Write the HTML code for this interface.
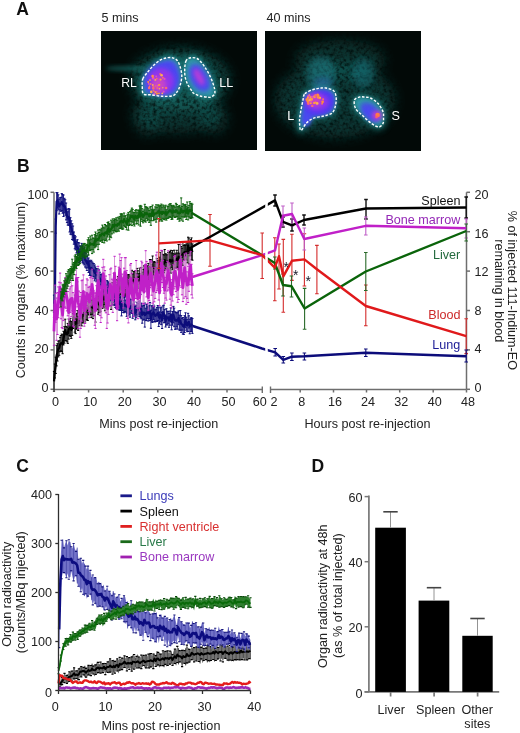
<!DOCTYPE html>
<html><head><meta charset="utf-8"><style>
html,body{margin:0;padding:0;background:#fff;}
svg{display:block;font-family:"Liberation Sans",sans-serif;filter:blur(0.3px);}
</style></head><body>
<svg width="520" height="733" viewBox="0 0 520 733" font-family="Liberation Sans, sans-serif"><defs>
<filter id="blur6" x="-50%" y="-50%" width="200%" height="200%"><feGaussianBlur stdDeviation="6"/></filter>
<filter id="blur3" x="-50%" y="-50%" width="200%" height="200%"><feGaussianBlur stdDeviation="3"/></filter>
<filter id="blur2" x="-50%" y="-50%" width="200%" height="200%"><feGaussianBlur stdDeviation="2"/></filter>
<filter id="blur1" x="-50%" y="-50%" width="200%" height="200%"><feGaussianBlur stdDeviation="0.6"/></filter>
<filter id="haze1" filterUnits="userSpaceOnUse" x="101" y="31" width="156" height="119"><feGaussianBlur in="SourceGraphic" stdDeviation="6" result="b"/><feTurbulence type="fractalNoise" baseFrequency="0.3" numOctaves="2" seed="2" result="n"/><feColorMatrix in="n" type="matrix" values="0 0 0 0 0  0 0 0 0 0  0 0 0 0 0  1.8 0 0 0 -0.1" result="na"/><feComposite in="b" in2="na" operator="in"/></filter>
<filter id="haze2" filterUnits="userSpaceOnUse" x="265" y="31" width="156" height="120"><feGaussianBlur in="SourceGraphic" stdDeviation="6" result="b"/><feTurbulence type="fractalNoise" baseFrequency="0.3" numOctaves="2" seed="7" result="n"/><feColorMatrix in="n" type="matrix" values="0 0 0 0 0  0 0 0 0 0  0 0 0 0 0  1.8 0 0 0 -0.1" result="na"/><feComposite in="b" in2="na" operator="in"/></filter>
<clipPath id="clipA1"><rect x="101" y="31" width="156" height="119"/></clipPath>
<clipPath id="clipA2"><rect x="265" y="31" width="156" height="120"/></clipPath>
</defs><text x="16.3" y="14.6" font-size="17.5" text-anchor="start" fill="#111" font-weight="bold" >A</text>
<text x="101.5" y="21.5" font-size="12.6" text-anchor="start" fill="#222" font-weight="normal" >5 mins</text>
<text x="266.5" y="21.5" font-size="12.6" text-anchor="start" fill="#222" font-weight="normal" >40 mins</text>
<g clip-path="url(#clipA1)">
<rect x="101" y="31" width="156" height="119" fill="#020907"/>
<g filter="url(#haze1)" fill="#1c8a86"><ellipse cx="180" cy="80" rx="50" ry="32" opacity="0.45"/><ellipse cx="178" cy="113" rx="46" ry="20" opacity="0.32"/><ellipse cx="148" cy="122" rx="14" ry="14" opacity="0.25"/><ellipse cx="214" cy="120" rx="14" ry="14" opacity="0.25"/></g>
<g filter="url(#blur2)" fill="#1c8a86"><ellipse cx="128" cy="68.5" rx="22" ry="2.4" opacity="0.55"/></g>
<g filter="url(#blur3)" fill="none" stroke="#1c8a86" stroke-width="7" opacity="0.55"><path d="M142.8,78.9 C143.7,76.7 145.8,74.4 147.6,72.2 C149.4,70 151.3,67.5 153.4,65.5 C155.5,63.5 157.9,61.5 160.1,60.2 C162.3,58.9 164.7,58.2 166.8,57.8 C168.9,57.4 170.8,57.3 172.6,57.8 C174.4,58.3 176.1,59.1 177.4,60.7 C178.7,62.3 179.6,64.9 180.3,67.4 C181,70 181.8,73.1 181.8,76 C181.8,78.9 181,82.1 180.3,84.7 C179.6,87.3 178.7,89.6 177.4,91.4 C176.1,93.2 175.2,95 172.6,95.8 C170,96.6 165.7,96.4 162,96.2 C158.3,96 153.6,95.2 150.5,94.8 C147.4,94.4 144.7,95.3 143.3,93.8 C141.9,92.3 142.4,88.2 142.3,85.7 C142.2,83.2 141.9,81.2 142.8,78.9 Z"/><path d="M185.8,61.5 C186.4,59.9 187.4,59.1 188.5,58.5 C189.6,57.9 191.1,57.6 192.5,57.6 C193.9,57.6 195.6,57.8 197,58.5 C198.4,59.2 199.7,60.5 201,62 C202.3,63.5 203.7,65.3 205,67.3 C206.3,69.3 207.8,71.5 209,74 C210.2,76.5 211.6,79.5 212.5,82 C213.4,84.5 214.2,87 214.6,89 C214.9,91 215.2,92.9 214.6,94.2 C214,95.5 212.1,96.5 211,97 C209.9,97.5 209.7,97.4 207.9,97.2 C206.1,97 202.3,96.6 200,96 C197.7,95.4 195.4,94.4 194,93.5 C192.6,92.6 192.6,92 191.5,90.4 C190.4,88.8 188.6,86.4 187.5,84 C186.4,81.6 185.4,78.7 185,76 C184.6,73.3 184.7,70.4 184.8,68 C184.9,65.6 185.2,63.1 185.8,61.5 Z"/></g>
<g filter="url(#blur2)"><path d="M142.8,78.9 C143.7,76.7 145.8,74.4 147.6,72.2 C149.4,70 151.3,67.5 153.4,65.5 C155.5,63.5 157.9,61.5 160.1,60.2 C162.3,58.9 164.7,58.2 166.8,57.8 C168.9,57.4 170.8,57.3 172.6,57.8 C174.4,58.3 176.1,59.1 177.4,60.7 C178.7,62.3 179.6,64.9 180.3,67.4 C181,70 181.8,73.1 181.8,76 C181.8,78.9 181,82.1 180.3,84.7 C179.6,87.3 178.7,89.6 177.4,91.4 C176.1,93.2 175.2,95 172.6,95.8 C170,96.6 165.7,96.4 162,96.2 C158.3,96 153.6,95.2 150.5,94.8 C147.4,94.4 144.7,95.3 143.3,93.8 C141.9,92.3 142.4,88.2 142.3,85.7 C142.2,83.2 141.9,81.2 142.8,78.9 Z" fill="#2e9aa6"/><path d="M185.8,61.5 C186.4,59.9 187.4,59.1 188.5,58.5 C189.6,57.9 191.1,57.6 192.5,57.6 C193.9,57.6 195.6,57.8 197,58.5 C198.4,59.2 199.7,60.5 201,62 C202.3,63.5 203.7,65.3 205,67.3 C206.3,69.3 207.8,71.5 209,74 C210.2,76.5 211.6,79.5 212.5,82 C213.4,84.5 214.2,87 214.6,89 C214.9,91 215.2,92.9 214.6,94.2 C214,95.5 212.1,96.5 211,97 C209.9,97.5 209.7,97.4 207.9,97.2 C206.1,97 202.3,96.6 200,96 C197.7,95.4 195.4,94.4 194,93.5 C192.6,92.6 192.6,92 191.5,90.4 C190.4,88.8 188.6,86.4 187.5,84 C186.4,81.6 185.4,78.7 185,76 C184.6,73.3 184.7,70.4 184.8,68 C184.9,65.6 185.2,63.1 185.8,61.5 Z" fill="#2e9aa6"/></g>
<g filter="url(#blur2)" fill="#4848ee"><path d="M142.8,78.9 C143.7,76.7 145.8,74.4 147.6,72.2 C149.4,70 151.3,67.5 153.4,65.5 C155.5,63.5 157.9,61.5 160.1,60.2 C162.3,58.9 164.7,58.2 166.8,57.8 C168.9,57.4 170.8,57.3 172.6,57.8 C174.4,58.3 176.1,59.1 177.4,60.7 C178.7,62.3 179.6,64.9 180.3,67.4 C181,70 181.8,73.1 181.8,76 C181.8,78.9 181,82.1 180.3,84.7 C179.6,87.3 178.7,89.6 177.4,91.4 C176.1,93.2 175.2,95 172.6,95.8 C170,96.6 165.7,96.4 162,96.2 C158.3,96 153.6,95.2 150.5,94.8 C147.4,94.4 144.7,95.3 143.3,93.8 C141.9,92.3 142.4,88.2 142.3,85.7 C142.2,83.2 141.9,81.2 142.8,78.9 Z" transform="translate(162 78) scale(0.86) translate(-162 -78)"/><path d="M185.8,61.5 C186.4,59.9 187.4,59.1 188.5,58.5 C189.6,57.9 191.1,57.6 192.5,57.6 C193.9,57.6 195.6,57.8 197,58.5 C198.4,59.2 199.7,60.5 201,62 C202.3,63.5 203.7,65.3 205,67.3 C206.3,69.3 207.8,71.5 209,74 C210.2,76.5 211.6,79.5 212.5,82 C213.4,84.5 214.2,87 214.6,89 C214.9,91 215.2,92.9 214.6,94.2 C214,95.5 212.1,96.5 211,97 C209.9,97.5 209.7,97.4 207.9,97.2 C206.1,97 202.3,96.6 200,96 C197.7,95.4 195.4,94.4 194,93.5 C192.6,92.6 192.6,92 191.5,90.4 C190.4,88.8 188.6,86.4 187.5,84 C186.4,81.6 185.4,78.7 185,76 C184.6,73.3 184.7,70.4 184.8,68 C184.9,65.6 185.2,63.1 185.8,61.5 Z" transform="translate(200 78) scale(0.6) translate(-200 -78)" opacity="0.7"/></g>
<g filter="url(#blur3)"><ellipse cx="162" cy="79" rx="16" ry="15" fill="#4c44f2"/><ellipse cx="199.5" cy="78" rx="7.5" ry="14.5" fill="#4c44f2" transform="rotate(-28 199.5 78)"/></g>
<g filter="url(#blur2)"><ellipse cx="161" cy="81" rx="13" ry="13" fill="#9036ea"/><ellipse cx="159" cy="85" rx="7" ry="8" fill="#c844c8"/><ellipse cx="199" cy="77" rx="3.8" ry="9.5" fill="#b43cd8" transform="rotate(-28 199 77)"/></g>
<g filter="url(#blur1)"><circle cx="152.8" cy="85" r="0.9" fill="#ffb050"/><circle cx="157.5" cy="85.8" r="1.1" fill="#e050c0"/><circle cx="153.2" cy="78.2" r="1.3" fill="#e050c0"/><circle cx="158.8" cy="85.1" r="0.9" fill="#ff9a40"/><circle cx="152.6" cy="76.3" r="1.3" fill="#e050c0"/><circle cx="162.8" cy="87.8" r="0.7" fill="#ffb050"/><circle cx="164.5" cy="78.9" r="1.1" fill="#e050c0"/><circle cx="162.3" cy="93.3" r="0.9" fill="#ffb050"/><circle cx="156.9" cy="93.6" r="1.2" fill="#ff8a40"/><circle cx="148.7" cy="83.9" r="0.9" fill="#e050c0"/><circle cx="163.6" cy="91.8" r="1" fill="#e050c0"/><circle cx="159.5" cy="84.8" r="0.9" fill="#ff9a40"/><circle cx="166.1" cy="88" r="1.3" fill="#f86a70"/><circle cx="151.3" cy="91.9" r="1.3" fill="#ffb050"/><circle cx="159.4" cy="88.7" r="0.8" fill="#ffb050"/><circle cx="153.3" cy="75.7" r="1" fill="#e050c0"/><circle cx="156.2" cy="76.3" r="0.9" fill="#e050c0"/><circle cx="160.3" cy="74" r="1.1" fill="#f86a70"/><circle cx="159" cy="93.3" r="0.9" fill="#ff9a40"/><circle cx="149.5" cy="86.2" r="0.7" fill="#ff9a40"/><circle cx="153.3" cy="88.2" r="1.3" fill="#f86a70"/><circle cx="154.3" cy="94.1" r="1.2" fill="#e050c0"/><circle cx="155.5" cy="92.1" r="0.9" fill="#ffb050"/><circle cx="161.6" cy="75.3" r="1.3" fill="#ffb050"/><circle cx="153.4" cy="87" r="1.1" fill="#f86a70"/><circle cx="156.7" cy="78.7" r="0.9" fill="#f86a70"/><circle cx="148.2" cy="82.1" r="1" fill="#ff8a40"/><circle cx="155.5" cy="86" r="0.8" fill="#f86a70"/><circle cx="157.3" cy="87.9" r="0.9" fill="#f86a70"/><circle cx="149.2" cy="87.9" r="1.3" fill="#f86a70"/><circle cx="160.6" cy="79.6" r="1.1" fill="#ff9a40"/><circle cx="155.3" cy="79.9" r="0.9" fill="#ffb050"/><circle cx="153.3" cy="90.3" r="0.8" fill="#ff8a40"/><circle cx="150.6" cy="84" r="1.1" fill="#f86a70"/><circle cx="152.8" cy="77.1" r="1" fill="#ff8a40"/><circle cx="150" cy="80.1" r="0.9" fill="#ff9a40"/><circle cx="156.8" cy="91.8" r="0.8" fill="#f86a70"/><circle cx="162.8" cy="77.8" r="1" fill="#f86a70"/><circle cx="152.5" cy="75.7" r="1" fill="#ff9a40"/><circle cx="154.3" cy="91.4" r="1" fill="#f86a70"/></g>
<path d="M142.8,78.9 C143.7,76.7 145.8,74.4 147.6,72.2 C149.4,70 151.3,67.5 153.4,65.5 C155.5,63.5 157.9,61.5 160.1,60.2 C162.3,58.9 164.7,58.2 166.8,57.8 C168.9,57.4 170.8,57.3 172.6,57.8 C174.4,58.3 176.1,59.1 177.4,60.7 C178.7,62.3 179.6,64.9 180.3,67.4 C181,70 181.8,73.1 181.8,76 C181.8,78.9 181,82.1 180.3,84.7 C179.6,87.3 178.7,89.6 177.4,91.4 C176.1,93.2 175.2,95 172.6,95.8 C170,96.6 165.7,96.4 162,96.2 C158.3,96 153.6,95.2 150.5,94.8 C147.4,94.4 144.7,95.3 143.3,93.8 C141.9,92.3 142.4,88.2 142.3,85.7 C142.2,83.2 141.9,81.2 142.8,78.9 Z" fill="none" stroke="#fff" stroke-width="1.4" stroke-dasharray="2.6 1.6"/>
<path d="M185.8,61.5 C186.4,59.9 187.4,59.1 188.5,58.5 C189.6,57.9 191.1,57.6 192.5,57.6 C193.9,57.6 195.6,57.8 197,58.5 C198.4,59.2 199.7,60.5 201,62 C202.3,63.5 203.7,65.3 205,67.3 C206.3,69.3 207.8,71.5 209,74 C210.2,76.5 211.6,79.5 212.5,82 C213.4,84.5 214.2,87 214.6,89 C214.9,91 215.2,92.9 214.6,94.2 C214,95.5 212.1,96.5 211,97 C209.9,97.5 209.7,97.4 207.9,97.2 C206.1,97 202.3,96.6 200,96 C197.7,95.4 195.4,94.4 194,93.5 C192.6,92.6 192.6,92 191.5,90.4 C190.4,88.8 188.6,86.4 187.5,84 C186.4,81.6 185.4,78.7 185,76 C184.6,73.3 184.7,70.4 184.8,68 C184.9,65.6 185.2,63.1 185.8,61.5 Z" fill="none" stroke="#fff" stroke-width="1.4" stroke-dasharray="2.6 1.6"/>
</g>
<text x="121.2" y="86.8" font-size="12.2" text-anchor="start" fill="#fff" font-weight="normal" >RL</text>
<text x="219.3" y="87.3" font-size="12.6" text-anchor="start" fill="#fff" font-weight="normal" >LL</text>
<g clip-path="url(#clipA2)">
<rect x="265" y="31" width="156" height="120" fill="#020907"/>
<g filter="url(#haze2)" fill="#1c8a86"><ellipse cx="335" cy="100" rx="60" ry="38" opacity="0.34"/><ellipse cx="340" cy="60" rx="45" ry="20" opacity="0.3"/></g>
<g filter="url(#blur3)"><ellipse cx="321" cy="74" rx="14" ry="18" fill="#1f8a96" opacity="0.45"/><ellipse cx="323" cy="84" rx="9" ry="6" fill="#3a62c8" opacity="0.45"/><ellipse cx="363" cy="73" rx="11" ry="15" fill="#1f8a96" opacity="0.38"/></g>
<g filter="url(#blur3)" fill="none" stroke="#1c8a86" stroke-width="7" opacity="0.5"><path d="M304.8,93.8 C306.5,92 310.8,90.4 313.3,89.5 C315.8,88.6 317.9,88.5 320,88.2 C322.1,88 323.8,87.6 326,88 C328.2,88.4 331.7,89.1 333.4,90.6 C335.1,92.1 335.8,94.5 336.1,97 C336.5,99.5 336.1,102.8 335.5,105.4 C334.9,108 334.2,111 332.3,112.8 C330.4,114.6 327,115.1 323.8,116 C320.6,116.9 316.2,117.1 313.3,118.3 C310.4,119.5 308.6,121 306.5,123 C304.4,125 302.1,130.3 301,130.5 C299.9,130.7 299.8,126.2 299.6,124 C299.4,121.8 299.5,119.5 299.8,117 C300.1,114.5 300.7,111.8 301.2,109 C301.7,106.2 302.4,102.5 303,100 C303.6,97.5 303.1,95.5 304.8,93.8 Z"/><path d="M354.5,100 C355.2,98.1 358.1,97.5 359.8,97 C361.6,96.5 363.2,97 365,97.2 C366.8,97.4 368.3,97 370.4,98 C372.5,99 375.7,101 377.8,103.3 C379.9,105.6 382.1,109.2 383,111.7 C383.9,114.2 383.5,116 383.5,118 C383.5,120 383.8,121.9 383,123.4 C382.2,124.9 380.7,127 378.8,127 C376.9,127 374,125.2 371.4,123.4 C368.8,121.6 365.6,118.5 363,116 C360.4,113.5 357,111.3 355.6,108.6 C354.2,105.9 353.8,101.9 354.5,100 Z"/></g>
<g filter="url(#blur2)"><path d="M304.8,93.8 C306.5,92 310.8,90.4 313.3,89.5 C315.8,88.6 317.9,88.5 320,88.2 C322.1,88 323.8,87.6 326,88 C328.2,88.4 331.7,89.1 333.4,90.6 C335.1,92.1 335.8,94.5 336.1,97 C336.5,99.5 336.1,102.8 335.5,105.4 C334.9,108 334.2,111 332.3,112.8 C330.4,114.6 327,115.1 323.8,116 C320.6,116.9 316.2,117.1 313.3,118.3 C310.4,119.5 308.6,121 306.5,123 C304.4,125 302.1,130.3 301,130.5 C299.9,130.7 299.8,126.2 299.6,124 C299.4,121.8 299.5,119.5 299.8,117 C300.1,114.5 300.7,111.8 301.2,109 C301.7,106.2 302.4,102.5 303,100 C303.6,97.5 303.1,95.5 304.8,93.8 Z" fill="#2e9aa6"/><path d="M354.5,100 C355.2,98.1 358.1,97.5 359.8,97 C361.6,96.5 363.2,97 365,97.2 C366.8,97.4 368.3,97 370.4,98 C372.5,99 375.7,101 377.8,103.3 C379.9,105.6 382.1,109.2 383,111.7 C383.9,114.2 383.5,116 383.5,118 C383.5,120 383.8,121.9 383,123.4 C382.2,124.9 380.7,127 378.8,127 C376.9,127 374,125.2 371.4,123.4 C368.8,121.6 365.6,118.5 363,116 C360.4,113.5 357,111.3 355.6,108.6 C354.2,105.9 353.8,101.9 354.5,100 Z" fill="#2e9aa6"/></g>
<g filter="url(#blur2)" fill="#4a40ee"><path d="M304.8,93.8 C306.5,92 310.8,90.4 313.3,89.5 C315.8,88.6 317.9,88.5 320,88.2 C322.1,88 323.8,87.6 326,88 C328.2,88.4 331.7,89.1 333.4,90.6 C335.1,92.1 335.8,94.5 336.1,97 C336.5,99.5 336.1,102.8 335.5,105.4 C334.9,108 334.2,111 332.3,112.8 C330.4,114.6 327,115.1 323.8,116 C320.6,116.9 316.2,117.1 313.3,118.3 C310.4,119.5 308.6,121 306.5,123 C304.4,125 302.1,130.3 301,130.5 C299.9,130.7 299.8,126.2 299.6,124 C299.4,121.8 299.5,119.5 299.8,117 C300.1,114.5 300.7,111.8 301.2,109 C301.7,106.2 302.4,102.5 303,100 C303.6,97.5 303.1,95.5 304.8,93.8 Z" transform="translate(319 103) scale(0.85) translate(-319 -103)"/><path d="M354.5,100 C355.2,98.1 358.1,97.5 359.8,97 C361.6,96.5 363.2,97 365,97.2 C366.8,97.4 368.3,97 370.4,98 C372.5,99 375.7,101 377.8,103.3 C379.9,105.6 382.1,109.2 383,111.7 C383.9,114.2 383.5,116 383.5,118 C383.5,120 383.8,121.9 383,123.4 C382.2,124.9 380.7,127 378.8,127 C376.9,127 374,125.2 371.4,123.4 C368.8,121.6 365.6,118.5 363,116 C360.4,113.5 357,111.3 355.6,108.6 C354.2,105.9 353.8,101.9 354.5,100 Z" transform="translate(371 112) scale(0.62) translate(-371 -112)" opacity="0.8"/></g>
<g filter="url(#blur2)"><ellipse cx="319" cy="103" rx="15" ry="12" fill="#5038f0" transform="rotate(-15 319 103)"/><ellipse cx="307" cy="118" rx="4" ry="8" fill="#4a48f0"/><ellipse cx="371" cy="114" rx="10" ry="5.5" fill="#4a48f0" transform="rotate(38 371 114)"/></g>
<g filter="url(#blur2)"><ellipse cx="317" cy="102" rx="12" ry="9" fill="#8a34ee"/><ellipse cx="315" cy="100" rx="7" ry="6" fill="#c840c8"/><ellipse cx="377" cy="115.5" rx="5" ry="4.5" fill="#c83ccc"/></g>
<g filter="url(#blur1)"><circle cx="317.1" cy="103.4" r="1.4" fill="#ffb050"/><circle cx="307" cy="99.5" r="1.5" fill="#ff8a40"/><circle cx="314.5" cy="96.5" r="1.2" fill="#ffb050"/><circle cx="310.7" cy="103.2" r="1.1" fill="#ff9a40"/><circle cx="322.1" cy="103.7" r="0.9" fill="#ff8a40"/><circle cx="308.9" cy="101.6" r="0.9" fill="#ff8a40"/><circle cx="309.3" cy="95.3" r="1" fill="#ff9a40"/><circle cx="315.7" cy="102.5" r="0.9" fill="#ff9a40"/><circle cx="311.6" cy="98.1" r="0.9" fill="#ff9a40"/><circle cx="311" cy="97.6" r="1.4" fill="#ffb050"/><circle cx="312.2" cy="97.3" r="1.4" fill="#e050c0"/><circle cx="318.3" cy="95.6" r="1.1" fill="#ff9a40"/><circle cx="319.9" cy="98.1" r="1.2" fill="#ff8a40"/><circle cx="314.2" cy="102.9" r="1.2" fill="#ff9a40"/><circle cx="308.5" cy="96.4" r="1.4" fill="#e050c0"/><circle cx="312.4" cy="98" r="1.2" fill="#e050c0"/><circle cx="308.3" cy="103.5" r="1.4" fill="#f86a70"/><circle cx="308.1" cy="97.8" r="1.2" fill="#ff9a40"/><circle cx="312.3" cy="105.9" r="1.2" fill="#f86a70"/><circle cx="318.2" cy="97.3" r="1.4" fill="#ff9a40"/><circle cx="318.8" cy="97.3" r="1.1" fill="#ff8a40"/><circle cx="307.9" cy="101.4" r="1.4" fill="#ff8a40"/><circle cx="310.5" cy="101.3" r="1.4" fill="#e050c0"/><circle cx="317.6" cy="95" r="1.5" fill="#ff8a40"/><circle cx="320.1" cy="97.7" r="0.9" fill="#ffb050"/><circle cx="322.6" cy="101.8" r="1.4" fill="#ff8a40"/><circle cx="309.4" cy="98.2" r="0.8" fill="#e050c0"/><circle cx="311.5" cy="99.3" r="1.5" fill="#ff9a40"/><circle cx="323.1" cy="99.3" r="1.1" fill="#f86a70"/><circle cx="314.6" cy="97.1" r="1.1" fill="#ff9a40"/><circle cx="315.5" cy="95.5" r="1.5" fill="#f86a70"/><circle cx="309.6" cy="99.9" r="1.2" fill="#ffb050"/><circle cx="377.6" cy="115" r="2.3" fill="#ff7a48"/><circle cx="376.5" cy="117" r="1.3" fill="#f86070"/></g>
<path d="M304.8,93.8 C306.5,92 310.8,90.4 313.3,89.5 C315.8,88.6 317.9,88.5 320,88.2 C322.1,88 323.8,87.6 326,88 C328.2,88.4 331.7,89.1 333.4,90.6 C335.1,92.1 335.8,94.5 336.1,97 C336.5,99.5 336.1,102.8 335.5,105.4 C334.9,108 334.2,111 332.3,112.8 C330.4,114.6 327,115.1 323.8,116 C320.6,116.9 316.2,117.1 313.3,118.3 C310.4,119.5 308.6,121 306.5,123 C304.4,125 302.1,130.3 301,130.5 C299.9,130.7 299.8,126.2 299.6,124 C299.4,121.8 299.5,119.5 299.8,117 C300.1,114.5 300.7,111.8 301.2,109 C301.7,106.2 302.4,102.5 303,100 C303.6,97.5 303.1,95.5 304.8,93.8 Z" fill="none" stroke="#fff" stroke-width="1.4" stroke-dasharray="2.6 1.6"/>
<path d="M354.5,100 C355.2,98.1 358.1,97.5 359.8,97 C361.6,96.5 363.2,97 365,97.2 C366.8,97.4 368.3,97 370.4,98 C372.5,99 375.7,101 377.8,103.3 C379.9,105.6 382.1,109.2 383,111.7 C383.9,114.2 383.5,116 383.5,118 C383.5,120 383.8,121.9 383,123.4 C382.2,124.9 380.7,127 378.8,127 C376.9,127 374,125.2 371.4,123.4 C368.8,121.6 365.6,118.5 363,116 C360.4,113.5 357,111.3 355.6,108.6 C354.2,105.9 353.8,101.9 354.5,100 Z" fill="none" stroke="#fff" stroke-width="1.4" stroke-dasharray="2.6 1.6"/>
</g>
<text x="287.3" y="119.7" font-size="12.6" text-anchor="start" fill="#fff" font-weight="normal" >L</text>
<text x="391.6" y="119.5" font-size="12.6" text-anchor="start" fill="#fff" font-weight="normal" >S</text>
<text x="16.9" y="171.7" font-size="17.5" text-anchor="start" fill="#111" font-weight="bold" >B</text>
<line x1="54" y1="192.3" x2="54" y2="389.5" stroke="#6e6e6e" stroke-width="1.5" />
<line x1="50.5" y1="389.3" x2="54" y2="389.3" stroke="#6e6e6e" stroke-width="1.5" />
<text x="48.6" y="392.1" font-size="12.6" text-anchor="end" fill="#222" font-weight="normal" >0</text>
<line x1="50.5" y1="349.9" x2="54" y2="349.9" stroke="#6e6e6e" stroke-width="1.5" />
<text x="48.6" y="353" font-size="12.6" text-anchor="end" fill="#222" font-weight="normal" >20</text>
<line x1="50.5" y1="310.5" x2="54" y2="310.5" stroke="#6e6e6e" stroke-width="1.5" />
<text x="48.6" y="314.7" font-size="12.6" text-anchor="end" fill="#222" font-weight="normal" >40</text>
<line x1="50.5" y1="271.1" x2="54" y2="271.1" stroke="#6e6e6e" stroke-width="1.5" />
<text x="48.6" y="275.9" font-size="12.6" text-anchor="end" fill="#222" font-weight="normal" >60</text>
<line x1="50.5" y1="231.7" x2="54" y2="231.7" stroke="#6e6e6e" stroke-width="1.5" />
<text x="48.6" y="237.5" font-size="12.6" text-anchor="end" fill="#222" font-weight="normal" >80</text>
<line x1="50.5" y1="192.3" x2="54" y2="192.3" stroke="#6e6e6e" stroke-width="1.5" />
<text x="48.6" y="198.5" font-size="12.6" text-anchor="end" fill="#222" font-weight="normal" >100</text>
<line x1="54" y1="389.5" x2="262.3" y2="389.5" stroke="#6e6e6e" stroke-width="1.5" />
<line x1="270.5" y1="389.5" x2="466.5" y2="389.5" stroke="#6e6e6e" stroke-width="1.5" />
<line x1="88.6" y1="389.5" x2="88.6" y2="392.5" stroke="#6e6e6e" stroke-width="1.5" />
<line x1="123.2" y1="389.5" x2="123.2" y2="392.5" stroke="#6e6e6e" stroke-width="1.5" />
<line x1="157.8" y1="389.5" x2="157.8" y2="392.5" stroke="#6e6e6e" stroke-width="1.5" />
<line x1="192.4" y1="389.5" x2="192.4" y2="392.5" stroke="#6e6e6e" stroke-width="1.5" />
<line x1="227" y1="389.5" x2="227" y2="392.5" stroke="#6e6e6e" stroke-width="1.5" />
<line x1="262.3" y1="386.5" x2="262.3" y2="393" stroke="#6e6e6e" stroke-width="1.4" />
<line x1="270.5" y1="386.5" x2="270.5" y2="393" stroke="#6e6e6e" stroke-width="1.4" />
<line x1="300.2" y1="389.5" x2="300.2" y2="392.5" stroke="#6e6e6e" stroke-width="1.5" />
<line x1="333.5" y1="389.5" x2="333.5" y2="392.5" stroke="#6e6e6e" stroke-width="1.5" />
<line x1="366.5" y1="389.5" x2="366.5" y2="392.5" stroke="#6e6e6e" stroke-width="1.5" />
<line x1="399.7" y1="389.5" x2="399.7" y2="392.5" stroke="#6e6e6e" stroke-width="1.5" />
<line x1="433.2" y1="389.5" x2="433.2" y2="392.5" stroke="#6e6e6e" stroke-width="1.5" />
<line x1="466.5" y1="389.5" x2="466.5" y2="392.5" stroke="#6e6e6e" stroke-width="1.5" />
<text x="55.6" y="405.5" font-size="12.6" text-anchor="middle" fill="#222" font-weight="normal" >0</text>
<text x="90.2" y="405.5" font-size="12.6" text-anchor="middle" fill="#222" font-weight="normal" >10</text>
<text x="124.8" y="405.5" font-size="12.6" text-anchor="middle" fill="#222" font-weight="normal" >20</text>
<text x="159.4" y="405.5" font-size="12.6" text-anchor="middle" fill="#222" font-weight="normal" >30</text>
<text x="194" y="405.5" font-size="12.6" text-anchor="middle" fill="#222" font-weight="normal" >40</text>
<text x="228.6" y="405.5" font-size="12.6" text-anchor="middle" fill="#222" font-weight="normal" >50</text>
<text x="259.8" y="405.5" font-size="12.6" text-anchor="middle" fill="#222" font-weight="normal" >60</text>
<text x="274" y="405.5" font-size="12.6" text-anchor="middle" fill="#222" font-weight="normal" >2</text>
<text x="301.8" y="405.5" font-size="12.6" text-anchor="middle" fill="#222" font-weight="normal" >8</text>
<text x="335.1" y="405.5" font-size="12.6" text-anchor="middle" fill="#222" font-weight="normal" >16</text>
<text x="368.1" y="405.5" font-size="12.6" text-anchor="middle" fill="#222" font-weight="normal" >24</text>
<text x="401.3" y="405.5" font-size="12.6" text-anchor="middle" fill="#222" font-weight="normal" >32</text>
<text x="434.8" y="405.5" font-size="12.6" text-anchor="middle" fill="#222" font-weight="normal" >40</text>
<text x="468.1" y="405.5" font-size="12.6" text-anchor="middle" fill="#222" font-weight="normal" >48</text>
<text x="158.8" y="427.5" font-size="12.6" text-anchor="middle" fill="#222" font-weight="normal" >Mins post re-injection</text>
<text x="367.4" y="427.5" font-size="12.6" text-anchor="middle" fill="#222" font-weight="normal" >Hours post re-injection</text>
<line x1="466.5" y1="192.3" x2="466.5" y2="389.5" stroke="#6e6e6e" stroke-width="1.5" />
<line x1="466.5" y1="389.3" x2="470" y2="389.3" stroke="#6e6e6e" stroke-width="1.5" />
<text x="474.6" y="392.1" font-size="12.6" text-anchor="start" fill="#222" font-weight="normal" >0</text>
<line x1="466.5" y1="349.9" x2="470" y2="349.9" stroke="#6e6e6e" stroke-width="1.5" />
<text x="474.6" y="353" font-size="12.6" text-anchor="start" fill="#222" font-weight="normal" >4</text>
<line x1="466.5" y1="310.5" x2="470" y2="310.5" stroke="#6e6e6e" stroke-width="1.5" />
<text x="474.6" y="314.7" font-size="12.6" text-anchor="start" fill="#222" font-weight="normal" >8</text>
<line x1="466.5" y1="271.1" x2="470" y2="271.1" stroke="#6e6e6e" stroke-width="1.5" />
<text x="474.6" y="275.9" font-size="12.6" text-anchor="start" fill="#222" font-weight="normal" >12</text>
<line x1="466.5" y1="231.7" x2="470" y2="231.7" stroke="#6e6e6e" stroke-width="1.5" />
<text x="474.6" y="237.5" font-size="12.6" text-anchor="start" fill="#222" font-weight="normal" >16</text>
<line x1="466.5" y1="192.3" x2="470" y2="192.3" stroke="#6e6e6e" stroke-width="1.5" />
<text x="474.6" y="198.5" font-size="12.6" text-anchor="start" fill="#222" font-weight="normal" >20</text>
<path d="M54,371.5V391.2M54.9,364V378M55.7,357.2V373.5M56.6,345.3V365.9M57.5,343.7V361M58.3,341.1V356.9M59.2,340.8V355.3M60.1,337.3V351.7M60.9,335.6V350.9M61.8,334.1V351.7M62.6,334.8V353.7M63.5,331.3V344.9M64.4,326.7V343.2M65.2,319.2V340.8M66.1,326.4V340.7M67,327.2V341.9M67.8,323.4V343.4M68.7,319V339.1M69.6,321.1V335.5M70.4,318.4V336.6M71.3,321.6V338.4M72.2,321.3V335.4M73,313.6V328.5M73.9,309.1V325.3M74.8,314.7V332.2M75.6,314.2V333.6M76.5,313.4V329.1M77.4,310.6V328.8M78.2,316.4V330.5M79.1,312.2V325.6M80,307.3V325.6M80.8,311.5V325.3M81.7,310.2V325.9M82.5,307.1V322.9M83.4,308.5V322.9M84.3,306.4V321.1M85.1,304.1V322.1M86,305.1V319.8M86.9,305.6V319.8M87.7,301.4V320.5M88.6,299.8V314.7M89.5,300.8V315M90.3,298.9V314.6M91.2,296.1V317.4M92.1,300.6V314.3M92.9,296.5V318.6M93.8,299.2V315.8M94.7,298.6V312.1M95.5,298.7V322.1M96.4,295.4V308.8M97.2,295.3V309.3M98.1,291.4V314.2M99,296.3V312.5M99.8,298.2V312.6M100.7,295.3V311.6M101.6,288.3V305.3M102.4,291.4V308.4M103.3,290.8V307.2M104.2,289.3V304.8M105,289.9V310.8M105.9,289.3V306.8M106.8,287.4V308.6M107.6,289.8V305.7M108.5,286.4V303.3M109.4,286.5V305.4M110.2,285.4V299.6M111.1,287.9V309.4M112,282.7V298.1M112.8,288V304.8M113.7,280.3V299M114.5,286.5V302.2M115.4,284.7V304.2M116.3,284.8V298.5M117.1,279.8V304M118,276.6V300.5M118.9,278.6V295.3M119.7,279.1V297.4M120.6,278.5V294.6M121.5,277.7V302.2M122.3,278.8V298.1M123.2,280.1V295.4M124.1,282.4V297.5M124.9,279.4V295.2M125.8,279.2V295.1M126.7,277.4V293.4M127.5,274.8V290.6M128.4,274.5V296M129.3,274.7V298.1M130.1,276.1V290.5M131,278.1V291.9M131.8,270.3V290.6M132.7,274.1V290.7M133.6,271.5V295.7M134.4,271.4V285M135.3,271.9V288.6M136.2,273.6V288.4M137,268.4V284.7M137.9,270.8V287.1M138.8,273.7V288.6M139.6,268.2V284.8M140.5,273.5V289.5M141.4,267.4V284M142.2,272.2V287.6M143.1,269.3V287.4M144,265.8V290.9M144.8,269.9V285.9M145.7,266.3V286.4M146.6,265.4V284.2M147.4,266V282.8M148.3,263.4V279.5M149.2,266.6V281.1M150,259.5V275.5M150.9,259.8V284.9M151.7,264.3V280.7M152.6,256V277.2M153.5,262.3V278M154.3,261.5V282.5M155.2,262.3V281.4M156.1,262.4V279.5M156.9,258.5V277.2M157.8,260.4V277.3M158.7,260.7V279.6M159.5,257.2V273.6M160.4,252.4V279.4M161.3,259.1V272.8M162.1,251.1V273.4M163,254.4V272.1M163.9,255V272.8M164.7,249.5V270.7M165.6,253.7V270.1M166.4,254.8V268.9M167.3,254.8V269M168.2,252.5V268.6M169,252.4V270M169.9,251.6V268M170.8,250.3V273.1M171.6,252.9V267.8M172.5,250.6V269.8M173.4,253.7V269.1M174.2,250.2V271.1M175.1,254.3V267.9M176,253.1V268M176.8,250.3V267.1M177.7,253V267.3M178.6,244.5V269.4M179.4,253.2V267.1M180.3,244.6V269.9M181.2,246.5V264.8M182,248.2V265.6M182.9,242.1V265.3M183.8,245.4V260.1M184.6,244.8V259.5M185.5,245.4V259M186.3,244.1V260M187.2,242.9V262.8M188.1,237.2V253.4M188.9,238V263.9M189.8,241.8V255.8M190.7,239.7V255.7M191.5,237.9V259.6M192.4,243.9V260.2" stroke="#111" stroke-width="0.9" fill="none" opacity="1.0"/>
<path d="M52.9,371.5h2.2M52.9,391.2h2.2M53.8,364h2.2M53.8,378h2.2M54.6,357.2h2.2M54.6,373.5h2.2M55.5,345.3h2.2M55.5,365.9h2.2M56.4,343.7h2.2M56.4,361h2.2M57.2,341.1h2.2M57.2,356.9h2.2M58.1,340.8h2.2M58.1,355.3h2.2M59,337.3h2.2M59,351.7h2.2M59.8,335.6h2.2M59.8,350.9h2.2M60.7,334.1h2.2M60.7,351.7h2.2M61.5,334.8h2.2M61.5,353.7h2.2M62.4,331.3h2.2M62.4,344.9h2.2M63.3,326.7h2.2M63.3,343.2h2.2M64.1,319.2h2.2M64.1,340.8h2.2M65,326.4h2.2M65,340.7h2.2M65.9,327.2h2.2M65.9,341.9h2.2M66.7,323.4h2.2M66.7,343.4h2.2M67.6,319h2.2M67.6,339.1h2.2M68.5,321.1h2.2M68.5,335.5h2.2M69.3,318.4h2.2M69.3,336.6h2.2M70.2,321.6h2.2M70.2,338.4h2.2M71.1,321.3h2.2M71.1,335.4h2.2M71.9,313.6h2.2M71.9,328.5h2.2M72.8,309.1h2.2M72.8,325.3h2.2M73.7,314.7h2.2M73.7,332.2h2.2M74.5,314.2h2.2M74.5,333.6h2.2M75.4,313.4h2.2M75.4,329.1h2.2M76.3,310.6h2.2M76.3,328.8h2.2M77.1,316.4h2.2M77.1,330.5h2.2M78,312.2h2.2M78,325.6h2.2M78.9,307.3h2.2M78.9,325.6h2.2M79.7,311.5h2.2M79.7,325.3h2.2M80.6,310.2h2.2M80.6,325.9h2.2M81.4,307.1h2.2M81.4,322.9h2.2M82.3,308.5h2.2M82.3,322.9h2.2M83.2,306.4h2.2M83.2,321.1h2.2M84,304.1h2.2M84,322.1h2.2M84.9,305.1h2.2M84.9,319.8h2.2M85.8,305.6h2.2M85.8,319.8h2.2M86.6,301.4h2.2M86.6,320.5h2.2M87.5,299.8h2.2M87.5,314.7h2.2M88.4,300.8h2.2M88.4,315h2.2M89.2,298.9h2.2M89.2,314.6h2.2M90.1,296.1h2.2M90.1,317.4h2.2M91,300.6h2.2M91,314.3h2.2M91.8,296.5h2.2M91.8,318.6h2.2M92.7,299.2h2.2M92.7,315.8h2.2M93.6,298.6h2.2M93.6,312.1h2.2M94.4,298.7h2.2M94.4,322.1h2.2M95.3,295.4h2.2M95.3,308.8h2.2M96.2,295.3h2.2M96.2,309.3h2.2M97,291.4h2.2M97,314.2h2.2M97.9,296.3h2.2M97.9,312.5h2.2M98.7,298.2h2.2M98.7,312.6h2.2M99.6,295.3h2.2M99.6,311.6h2.2M100.5,288.3h2.2M100.5,305.3h2.2M101.3,291.4h2.2M101.3,308.4h2.2M102.2,290.8h2.2M102.2,307.2h2.2M103.1,289.3h2.2M103.1,304.8h2.2M103.9,289.9h2.2M103.9,310.8h2.2M104.8,289.3h2.2M104.8,306.8h2.2M105.7,287.4h2.2M105.7,308.6h2.2M106.5,289.8h2.2M106.5,305.7h2.2M107.4,286.4h2.2M107.4,303.3h2.2M108.3,286.5h2.2M108.3,305.4h2.2M109.1,285.4h2.2M109.1,299.6h2.2M110,287.9h2.2M110,309.4h2.2M110.9,282.7h2.2M110.9,298.1h2.2M111.7,288h2.2M111.7,304.8h2.2M112.6,280.3h2.2M112.6,299h2.2M113.5,286.5h2.2M113.5,302.2h2.2M114.3,284.7h2.2M114.3,304.2h2.2M115.2,284.8h2.2M115.2,298.5h2.2M116,279.8h2.2M116,304h2.2M116.9,276.6h2.2M116.9,300.5h2.2M117.8,278.6h2.2M117.8,295.3h2.2M118.6,279.1h2.2M118.6,297.4h2.2M119.5,278.5h2.2M119.5,294.6h2.2M120.4,277.7h2.2M120.4,302.2h2.2M121.2,278.8h2.2M121.2,298.1h2.2M122.1,280.1h2.2M122.1,295.4h2.2M123,282.4h2.2M123,297.5h2.2M123.8,279.4h2.2M123.8,295.2h2.2M124.7,279.2h2.2M124.7,295.1h2.2M125.6,277.4h2.2M125.6,293.4h2.2M126.4,274.8h2.2M126.4,290.6h2.2M127.3,274.5h2.2M127.3,296h2.2M128.2,274.7h2.2M128.2,298.1h2.2M129,276.1h2.2M129,290.5h2.2M129.9,278.1h2.2M129.9,291.9h2.2M130.8,270.3h2.2M130.8,290.6h2.2M131.6,274.1h2.2M131.6,290.7h2.2M132.5,271.5h2.2M132.5,295.7h2.2M133.3,271.4h2.2M133.3,285h2.2M134.2,271.9h2.2M134.2,288.6h2.2M135.1,273.6h2.2M135.1,288.4h2.2M135.9,268.4h2.2M135.9,284.7h2.2M136.8,270.8h2.2M136.8,287.1h2.2M137.7,273.7h2.2M137.7,288.6h2.2M138.5,268.2h2.2M138.5,284.8h2.2M139.4,273.5h2.2M139.4,289.5h2.2M140.3,267.4h2.2M140.3,284h2.2M141.1,272.2h2.2M141.1,287.6h2.2M142,269.3h2.2M142,287.4h2.2M142.9,265.8h2.2M142.9,290.9h2.2M143.7,269.9h2.2M143.7,285.9h2.2M144.6,266.3h2.2M144.6,286.4h2.2M145.5,265.4h2.2M145.5,284.2h2.2M146.3,266h2.2M146.3,282.8h2.2M147.2,263.4h2.2M147.2,279.5h2.2M148.1,266.6h2.2M148.1,281.1h2.2M148.9,259.5h2.2M148.9,275.5h2.2M149.8,259.8h2.2M149.8,284.9h2.2M150.6,264.3h2.2M150.6,280.7h2.2M151.5,256h2.2M151.5,277.2h2.2M152.4,262.3h2.2M152.4,278h2.2M153.2,261.5h2.2M153.2,282.5h2.2M154.1,262.3h2.2M154.1,281.4h2.2M155,262.4h2.2M155,279.5h2.2M155.8,258.5h2.2M155.8,277.2h2.2M156.7,260.4h2.2M156.7,277.3h2.2M157.6,260.7h2.2M157.6,279.6h2.2M158.4,257.2h2.2M158.4,273.6h2.2M159.3,252.4h2.2M159.3,279.4h2.2M160.2,259.1h2.2M160.2,272.8h2.2M161,251.1h2.2M161,273.4h2.2M161.9,254.4h2.2M161.9,272.1h2.2M162.8,255h2.2M162.8,272.8h2.2M163.6,249.5h2.2M163.6,270.7h2.2M164.5,253.7h2.2M164.5,270.1h2.2M165.3,254.8h2.2M165.3,268.9h2.2M166.2,254.8h2.2M166.2,269h2.2M167.1,252.5h2.2M167.1,268.6h2.2M167.9,252.4h2.2M167.9,270h2.2M168.8,251.6h2.2M168.8,268h2.2M169.7,250.3h2.2M169.7,273.1h2.2M170.5,252.9h2.2M170.5,267.8h2.2M171.4,250.6h2.2M171.4,269.8h2.2M172.3,253.7h2.2M172.3,269.1h2.2M173.1,250.2h2.2M173.1,271.1h2.2M174,254.3h2.2M174,267.9h2.2M174.9,253.1h2.2M174.9,268h2.2M175.7,250.3h2.2M175.7,267.1h2.2M176.6,253h2.2M176.6,267.3h2.2M177.5,244.5h2.2M177.5,269.4h2.2M178.3,253.2h2.2M178.3,267.1h2.2M179.2,244.6h2.2M179.2,269.9h2.2M180.1,246.5h2.2M180.1,264.8h2.2M180.9,248.2h2.2M180.9,265.6h2.2M181.8,242.1h2.2M181.8,265.3h2.2M182.7,245.4h2.2M182.7,260.1h2.2M183.5,244.8h2.2M183.5,259.5h2.2M184.4,245.4h2.2M184.4,259h2.2M185.2,244.1h2.2M185.2,260h2.2M186.1,242.9h2.2M186.1,262.8h2.2M187,237.2h2.2M187,253.4h2.2M187.8,238h2.2M187.8,263.9h2.2M188.7,241.8h2.2M188.7,255.8h2.2M189.6,239.7h2.2M189.6,255.7h2.2M190.4,237.9h2.2M190.4,259.6h2.2M191.3,243.9h2.2M191.3,260.2h2.2" stroke="#000" stroke-width="1.0" fill="none"/>
<polyline points="54,381.4 54.9,371 55.7,365.3 56.6,355.6 57.5,352.3 58.3,349 59.2,348.1 60.1,344.5 60.9,343.2 61.8,342.9 62.6,344.3 63.5,338.1 64.4,334.9 65.2,330 66.1,333.5 67,334.5 67.8,333.4 68.7,329.1 69.6,328.3 70.4,327.5 71.3,330 72.2,328.3 73,321 73.9,317.2 74.8,323.5 75.6,323.9 76.5,321.3 77.4,319.7 78.2,323.4 79.1,318.9 80,316.4 80.8,318.4 81.7,318 82.5,315 83.4,315.7 84.3,313.8 85.1,313.1 86,312.4 86.9,312.7 87.7,310.9 88.6,307.2 89.5,307.9 90.3,306.7 91.2,306.7 92.1,307.4 92.9,307.6 93.8,307.5 94.7,305.3 95.5,310.4 96.4,302.1 97.2,302.3 98.1,302.8 99,304.4 99.8,305.4 100.7,303.4 101.6,296.8 102.4,299.9 103.3,299 104.2,297 105,300.3 105.9,298.1 106.8,298 107.6,297.7 108.5,294.8 109.4,295.9 110.2,292.5 111.1,298.6 112,290.4 112.8,296.4 113.7,289.7 114.5,294.4 115.4,294.5 116.3,291.7 117.1,291.9 118,288.5 118.9,287 119.7,288.3 120.6,286.5 121.5,289.9 122.3,288.5 123.2,287.7 124.1,290 124.9,287.3 125.8,287.1 126.7,285.4 127.5,282.7 128.4,285.2 129.3,286.4 130.1,283.3 131,285 131.8,280.4 132.7,282.4 133.6,283.6 134.4,278.2 135.3,280.3 136.2,281 137,276.5 137.9,278.9 138.8,281.1 139.6,276.5 140.5,281.5 141.4,275.7 142.2,279.9 143.1,278.3 144,278.3 144.8,277.9 145.7,276.3 146.6,274.8 147.4,274.4 148.3,271.5 149.2,273.8 150,267.5 150.9,272.3 151.7,272.5 152.6,266.6 153.5,270.2 154.3,272 155.2,271.9 156.1,270.9 156.9,267.9 157.8,268.9 158.7,270.1 159.5,265.4 160.4,265.9 161.3,266 162.1,262.2 163,263.2 163.9,263.9 164.7,260.1 165.6,261.9 166.4,261.9 167.3,261.9 168.2,260.6 169,261.2 169.9,259.8 170.8,261.7 171.6,260.4 172.5,260.2 173.4,261.4 174.2,260.6 175.1,261.1 176,260.6 176.8,258.7 177.7,260.1 178.6,256.9 179.4,260.2 180.3,257.3 181.2,255.7 182,256.9 182.9,253.7 183.8,252.8 184.6,252.1 185.5,252.2 186.3,252 187.2,252.9 188.1,245.3 188.9,251 189.8,248.8 190.7,247.7 191.5,248.7 192.4,252.1" fill="none" stroke="#000" stroke-width="2.2" stroke-linejoin="round" />
<path d="M54,295.1V312.5M54.9,292.1V306M55.7,219.1V233.2M56.6,192.6V210.7M57.5,192.8V208.2M58.3,194.8V209.8M59.2,199.1V214M60.1,197.8V210M60.9,197.3V211.3M61.8,193.6V210.6M62.6,194.5V213.2M63.5,195V216.5M64.4,198.3V213M65.2,199.7V215.2M66.1,203V219.9M67,209.2V222.6M67.8,211.8V225.1M68.7,208.6V225.3M69.6,209.2V232M70.4,217.7V234.2M71.3,220.8V234.7M72.2,223.8V239.5M73,226V240.2M73.9,232V244.2M74.8,235.6V248.8M75.6,236.8V249.9M76.5,240.9V252.9M77.4,239.7V254.1M78.2,242.5V255.4M79.1,242.9V262.6M80,245.9V261.7M80.8,246.2V258.5M81.7,243.4V260.8M82.5,246.1V262.7M83.4,248.6V263.8M84.3,247.1V264.9M85.1,252.7V267M86,253.2V268M86.9,256.5V270.4M87.7,255.1V267.9M88.6,258V272.5M89.5,260.2V275.5M90.3,261.4V275.3M91.2,260.3V275.6M92.1,261.9V276M92.9,263.1V276.7M93.8,263.6V276.9M94.7,265V280.8M95.5,266.9V279M96.4,268.6V281.8M97.2,268.5V280.5M98.1,268.8V280.6M99,269.9V284.7M99.8,272.2V284.9M100.7,274.6V287.1M101.6,274V286.2M102.4,274.8V290.6M103.3,274.1V286.8M104.2,280.6V293.3M105,279.1V291.8M105.9,285V296.9M106.8,280.5V295.4M107.6,281.2V300.1M108.5,282V299M109.4,285.5V299.6M110.2,286V300.4M111.1,288.1V300.9M112,289.7V302.5M112.8,288V305.1M113.7,288.2V300.2M114.5,289.6V305.6M115.4,294.4V307.5M116.3,292.7V308.6M117.1,289.5V307.3M118,290.8V307.3M118.9,294.8V309.9M119.7,297.7V310.2M120.6,295.9V310.4M121.5,301.2V315.9M122.3,298.6V310.5M123.2,300.3V312.6M124.1,297.6V312.7M124.9,296.6V311.5M125.8,300.1V312.2M126.7,296.7V316.4M127.5,297.9V313.3M128.4,301.3V315.7M129.3,299.9V314.3M130.1,299.6V317.2M131,299.1V312.8M131.8,299.6V313.5M132.7,304V318.3M133.6,297.3V316.2M134.4,301.9V315.1M135.3,306.5V319.8M136.2,305.3V317.8M137,302.3V314.9M137.9,303.7V316.2M138.8,301.2V314.2M139.6,300.8V316.5M140.5,294.4V317.9M141.4,303.1V318.8M142.2,306.2V323.2M143.1,305.1V320.1M144,305.6V319.3M144.8,303V327.1M145.7,308.2V320.6M146.6,304.5V320.6M147.4,306.8V318.6M148.3,305.8V321.1M149.2,305.7V318.6M150,302.4V320.4M150.9,310.2V328.3M151.7,305.7V322M152.6,306.2V322.4M153.5,305V319.6M154.3,306.1V321.5M155.2,309.8V322M156.1,309.1V321.4M156.9,307.4V321.5M157.8,305.5V320.5M158.7,307V326.5M159.5,311.9V323.8M160.4,307.8V322M161.3,307.1V324.6M162.1,312.4V328.5M163,305.8V318.7M163.9,305.1V322.8M164.7,309.6V322.5M165.6,315.1V327M166.4,308.7V325M167.3,311.2V324.9M168.2,311.4V323.3M169,313.4V327.3M169.9,311.1V325.2M170.8,307.9V321.7M171.6,314.1V329.8M172.5,311.5V325.2M173.4,306.4V322.9M174.2,308.1V326.7M175.1,311.8V329.3M176,312.6V329M176.8,312.9V326.8M177.7,312V329.1M178.6,310.9V324.7M179.4,315.1V330M180.3,310.5V330.3M181.2,315.6V332.4M182,318.3V330.1M182.9,317.6V334.1M183.8,319.2V334.4M184.6,315.7V332.5M185.5,312.8V327.8M186.3,317.2V330.2M187.2,319.3V331.7M188.1,313.3V331.5M188.9,315.8V328M189.8,319.3V333.8M190.7,318V331.4M191.5,317.7V331.7M192.4,318.6V333.4" stroke="#0c0c7a" stroke-width="0.9" fill="none" opacity="1"/>
<path d="M52.9,295.1h2.2M52.9,312.5h2.2M53.8,292.1h2.2M53.8,306h2.2M54.6,219.1h2.2M54.6,233.2h2.2M55.5,192.6h2.2M55.5,210.7h2.2M56.4,192.8h2.2M56.4,208.2h2.2M57.2,194.8h2.2M57.2,209.8h2.2M58.1,199.1h2.2M58.1,214h2.2M59,197.8h2.2M59,210h2.2M59.8,197.3h2.2M59.8,211.3h2.2M60.7,193.6h2.2M60.7,210.6h2.2M61.5,194.5h2.2M61.5,213.2h2.2M62.4,195h2.2M62.4,216.5h2.2M63.3,198.3h2.2M63.3,213h2.2M64.1,199.7h2.2M64.1,215.2h2.2M65,203h2.2M65,219.9h2.2M65.9,209.2h2.2M65.9,222.6h2.2M66.7,211.8h2.2M66.7,225.1h2.2M67.6,208.6h2.2M67.6,225.3h2.2M68.5,209.2h2.2M68.5,232h2.2M69.3,217.7h2.2M69.3,234.2h2.2M70.2,220.8h2.2M70.2,234.7h2.2M71.1,223.8h2.2M71.1,239.5h2.2M71.9,226h2.2M71.9,240.2h2.2M72.8,232h2.2M72.8,244.2h2.2M73.7,235.6h2.2M73.7,248.8h2.2M74.5,236.8h2.2M74.5,249.9h2.2M75.4,240.9h2.2M75.4,252.9h2.2M76.3,239.7h2.2M76.3,254.1h2.2M77.1,242.5h2.2M77.1,255.4h2.2M78,242.9h2.2M78,262.6h2.2M78.9,245.9h2.2M78.9,261.7h2.2M79.7,246.2h2.2M79.7,258.5h2.2M80.6,243.4h2.2M80.6,260.8h2.2M81.4,246.1h2.2M81.4,262.7h2.2M82.3,248.6h2.2M82.3,263.8h2.2M83.2,247.1h2.2M83.2,264.9h2.2M84,252.7h2.2M84,267h2.2M84.9,253.2h2.2M84.9,268h2.2M85.8,256.5h2.2M85.8,270.4h2.2M86.6,255.1h2.2M86.6,267.9h2.2M87.5,258h2.2M87.5,272.5h2.2M88.4,260.2h2.2M88.4,275.5h2.2M89.2,261.4h2.2M89.2,275.3h2.2M90.1,260.3h2.2M90.1,275.6h2.2M91,261.9h2.2M91,276h2.2M91.8,263.1h2.2M91.8,276.7h2.2M92.7,263.6h2.2M92.7,276.9h2.2M93.6,265h2.2M93.6,280.8h2.2M94.4,266.9h2.2M94.4,279h2.2M95.3,268.6h2.2M95.3,281.8h2.2M96.2,268.5h2.2M96.2,280.5h2.2M97,268.8h2.2M97,280.6h2.2M97.9,269.9h2.2M97.9,284.7h2.2M98.7,272.2h2.2M98.7,284.9h2.2M99.6,274.6h2.2M99.6,287.1h2.2M100.5,274h2.2M100.5,286.2h2.2M101.3,274.8h2.2M101.3,290.6h2.2M102.2,274.1h2.2M102.2,286.8h2.2M103.1,280.6h2.2M103.1,293.3h2.2M103.9,279.1h2.2M103.9,291.8h2.2M104.8,285h2.2M104.8,296.9h2.2M105.7,280.5h2.2M105.7,295.4h2.2M106.5,281.2h2.2M106.5,300.1h2.2M107.4,282h2.2M107.4,299h2.2M108.3,285.5h2.2M108.3,299.6h2.2M109.1,286h2.2M109.1,300.4h2.2M110,288.1h2.2M110,300.9h2.2M110.9,289.7h2.2M110.9,302.5h2.2M111.7,288h2.2M111.7,305.1h2.2M112.6,288.2h2.2M112.6,300.2h2.2M113.5,289.6h2.2M113.5,305.6h2.2M114.3,294.4h2.2M114.3,307.5h2.2M115.2,292.7h2.2M115.2,308.6h2.2M116,289.5h2.2M116,307.3h2.2M116.9,290.8h2.2M116.9,307.3h2.2M117.8,294.8h2.2M117.8,309.9h2.2M118.6,297.7h2.2M118.6,310.2h2.2M119.5,295.9h2.2M119.5,310.4h2.2M120.4,301.2h2.2M120.4,315.9h2.2M121.2,298.6h2.2M121.2,310.5h2.2M122.1,300.3h2.2M122.1,312.6h2.2M123,297.6h2.2M123,312.7h2.2M123.8,296.6h2.2M123.8,311.5h2.2M124.7,300.1h2.2M124.7,312.2h2.2M125.6,296.7h2.2M125.6,316.4h2.2M126.4,297.9h2.2M126.4,313.3h2.2M127.3,301.3h2.2M127.3,315.7h2.2M128.2,299.9h2.2M128.2,314.3h2.2M129,299.6h2.2M129,317.2h2.2M129.9,299.1h2.2M129.9,312.8h2.2M130.8,299.6h2.2M130.8,313.5h2.2M131.6,304h2.2M131.6,318.3h2.2M132.5,297.3h2.2M132.5,316.2h2.2M133.3,301.9h2.2M133.3,315.1h2.2M134.2,306.5h2.2M134.2,319.8h2.2M135.1,305.3h2.2M135.1,317.8h2.2M135.9,302.3h2.2M135.9,314.9h2.2M136.8,303.7h2.2M136.8,316.2h2.2M137.7,301.2h2.2M137.7,314.2h2.2M138.5,300.8h2.2M138.5,316.5h2.2M139.4,294.4h2.2M139.4,317.9h2.2M140.3,303.1h2.2M140.3,318.8h2.2M141.1,306.2h2.2M141.1,323.2h2.2M142,305.1h2.2M142,320.1h2.2M142.9,305.6h2.2M142.9,319.3h2.2M143.7,303h2.2M143.7,327.1h2.2M144.6,308.2h2.2M144.6,320.6h2.2M145.5,304.5h2.2M145.5,320.6h2.2M146.3,306.8h2.2M146.3,318.6h2.2M147.2,305.8h2.2M147.2,321.1h2.2M148.1,305.7h2.2M148.1,318.6h2.2M148.9,302.4h2.2M148.9,320.4h2.2M149.8,310.2h2.2M149.8,328.3h2.2M150.6,305.7h2.2M150.6,322h2.2M151.5,306.2h2.2M151.5,322.4h2.2M152.4,305h2.2M152.4,319.6h2.2M153.2,306.1h2.2M153.2,321.5h2.2M154.1,309.8h2.2M154.1,322h2.2M155,309.1h2.2M155,321.4h2.2M155.8,307.4h2.2M155.8,321.5h2.2M156.7,305.5h2.2M156.7,320.5h2.2M157.6,307h2.2M157.6,326.5h2.2M158.4,311.9h2.2M158.4,323.8h2.2M159.3,307.8h2.2M159.3,322h2.2M160.2,307.1h2.2M160.2,324.6h2.2M161,312.4h2.2M161,328.5h2.2M161.9,305.8h2.2M161.9,318.7h2.2M162.8,305.1h2.2M162.8,322.8h2.2M163.6,309.6h2.2M163.6,322.5h2.2M164.5,315.1h2.2M164.5,327h2.2M165.3,308.7h2.2M165.3,325h2.2M166.2,311.2h2.2M166.2,324.9h2.2M167.1,311.4h2.2M167.1,323.3h2.2M167.9,313.4h2.2M167.9,327.3h2.2M168.8,311.1h2.2M168.8,325.2h2.2M169.7,307.9h2.2M169.7,321.7h2.2M170.5,314.1h2.2M170.5,329.8h2.2M171.4,311.5h2.2M171.4,325.2h2.2M172.3,306.4h2.2M172.3,322.9h2.2M173.1,308.1h2.2M173.1,326.7h2.2M174,311.8h2.2M174,329.3h2.2M174.9,312.6h2.2M174.9,329h2.2M175.7,312.9h2.2M175.7,326.8h2.2M176.6,312h2.2M176.6,329.1h2.2M177.5,310.9h2.2M177.5,324.7h2.2M178.3,315.1h2.2M178.3,330h2.2M179.2,310.5h2.2M179.2,330.3h2.2M180.1,315.6h2.2M180.1,332.4h2.2M180.9,318.3h2.2M180.9,330.1h2.2M181.8,317.6h2.2M181.8,334.1h2.2M182.7,319.2h2.2M182.7,334.4h2.2M183.5,315.7h2.2M183.5,332.5h2.2M184.4,312.8h2.2M184.4,327.8h2.2M185.2,317.2h2.2M185.2,330.2h2.2M186.1,319.3h2.2M186.1,331.7h2.2M187,313.3h2.2M187,331.5h2.2M187.8,315.8h2.2M187.8,328h2.2M188.7,319.3h2.2M188.7,333.8h2.2M189.6,318h2.2M189.6,331.4h2.2M190.4,317.7h2.2M190.4,331.7h2.2M191.3,318.6h2.2M191.3,333.4h2.2" stroke="#0c0c7a" stroke-width="1.0" fill="none"/>
<polyline points="54,303.8 54.9,299.1 55.7,226.1 56.6,201.7 57.5,200.5 58.3,202.3 59.2,206.5 60.1,203.9 60.9,204.3 61.8,202.1 62.6,203.8 63.5,205.8 64.4,205.7 65.2,207.5 66.1,211.4 67,215.9 67.8,218.5 68.7,216.9 69.6,220.6 70.4,226 71.3,227.8 72.2,231.7 73,233.1 73.9,238.1 74.8,242.2 75.6,243.4 76.5,246.9 77.4,246.9 78.2,249 79.1,252.8 80,253.8 80.8,252.3 81.7,252.1 82.5,254.4 83.4,256.2 84.3,256 85.1,259.8 86,260.6 86.9,263.4 87.7,261.5 88.6,265.2 89.5,267.8 90.3,268.4 91.2,267.9 92.1,268.9 92.9,269.9 93.8,270.3 94.7,272.9 95.5,272.9 96.4,275.2 97.2,274.5 98.1,274.7 99,277.3 99.8,278.5 100.7,280.8 101.6,280.1 102.4,282.7 103.3,280.4 104.2,286.9 105,285.5 105.9,290.9 106.8,288 107.6,290.7 108.5,290.5 109.4,292.6 110.2,293.2 111.1,294.5 112,296.1 112.8,296.6 113.7,294.2 114.5,297.6 115.4,300.9 116.3,300.7 117.1,298.4 118,299.1 118.9,302.4 119.7,304 120.6,303.1 121.5,308.6 122.3,304.5 123.2,306.4 124.1,305.1 124.9,304.1 125.8,306.2 126.7,306.6 127.5,305.6 128.4,308.5 129.3,307.1 130.1,308.4 131,305.9 131.8,306.5 132.7,311.2 133.6,306.8 134.4,308.5 135.3,313.1 136.2,311.5 137,308.6 137.9,309.9 138.8,307.7 139.6,308.7 140.5,306.2 141.4,310.9 142.2,314.7 143.1,312.6 144,312.5 144.8,315.1 145.7,314.4 146.6,312.6 147.4,312.7 148.3,313.4 149.2,312.1 150,311.4 150.9,319.2 151.7,313.8 152.6,314.3 153.5,312.3 154.3,313.8 155.2,315.9 156.1,315.3 156.9,314.4 157.8,313 158.7,316.7 159.5,317.8 160.4,314.9 161.3,315.9 162.1,320.4 163,312.2 163.9,313.9 164.7,316.1 165.6,321.1 166.4,316.9 167.3,318.1 168.2,317.3 169,320.4 169.9,318.1 170.8,314.8 171.6,321.9 172.5,318.4 173.4,314.7 174.2,317.4 175.1,320.5 176,320.8 176.8,319.9 177.7,320.5 178.6,317.8 179.4,322.5 180.3,320.4 181.2,324 182,324.2 182.9,325.9 183.8,326.8 184.6,324.1 185.5,320.3 186.3,323.7 187.2,325.5 188.1,322.4 188.9,321.9 189.8,326.5 190.7,324.7 191.5,324.7 192.4,326" fill="none" stroke="#0c0c7a" stroke-width="2.2" stroke-linejoin="round" />
<path d="M54,317.5V345.3M54.9,285.1V316.7M55.7,293.4V322.2M56.6,298V340.3M57.5,292.6V334.5M58.3,286.9V317.7M59.2,282.2V307.6M60.1,273.1V301.6M60.9,282.9V318.8M61.8,289.3V327.6M62.6,301.3V328.6M63.5,285.8V320.6M64.4,281.9V307.9M65.2,277.7V307M66.1,280.4V308.2M67,284.7V310.9M67.8,291.5V315.8M68.7,300.3V324.9M69.6,288.9V319.3M70.4,286.8V312.3M71.3,280.4V316.7M72.2,285.8V310.9M73,292.7V326M73.9,301.7V326.9M74.8,295V320.6M75.6,274.7V317.6M76.5,265.9V291.1M77.4,281.8V306.9M78.2,277.5V328.5M79.1,291.1V319.3M80,296.7V337.2M80.8,292.5V328.4M81.7,280.7V321.2M82.5,280V313.3M83.4,274.9V307.9M84.3,295.6V326.2M85.1,292V323.5M86,284.9V314M86.9,278.9V307.9M87.7,280V309.1M88.6,287.4V311.7M89.5,286.3V317.7M90.3,277.7V311.7M91.2,276.7V305.9M92.1,269.2V299.4M92.9,278.6V304.2M93.8,290.9V315.2M94.7,292.9V325.3M95.5,293.1V328.4M96.4,285.7V310.5M97.2,273.1V308M98.1,266.3V294.5M99,270.6V300.7M99.8,286.1V315.6M100.7,288.5V322.5M101.6,286.2V317.8M102.4,267.3V307.3M103.3,259.3V288.2M104.2,266.9V294M105,270.6V301.2M105.9,276V312.8M106.8,286.1V328.4M107.6,294.6V323M108.5,288.8V314.4M109.4,274.7V306.2M110.2,269.1V299.2M111.1,268.1V305.6M112,279.2V303.8M112.8,287.8V312.4M113.7,273.3V298.6M114.5,256.3V289.9M115.4,266.3V303M116.3,282.3V306.4M117.1,296.6V320.7M118,279.4V308.2M118.9,267.2V292.8M119.7,254.1V284M120.6,260.5V292.5M121.5,257.7V299.9M122.3,274.1V302.6M123.2,283.6V308M124.1,268.2V292.4M124.9,257.7V286.2M125.8,257.7V288.5M126.7,270.6V303.3M127.5,286.1V318.4M128.4,290.6V322.9M129.3,279.6V305.1M130.1,265V293.8M131,263.5V293.4M131.8,273.5V309.4M132.7,282.2V313M133.6,283.3V316.6M134.4,278.2V304.9M135.3,270.5V298.4M136.2,260.5V298.5M137,275V308.3M137.9,278.6V318.7M138.8,282V308.3M139.6,284.1V311M140.5,268V307.2M141.4,261.2V290.6M142.2,262.8V290.7M143.1,275.8V303.6M144,280.2V304M144.8,264.9V291.2M145.7,250.7V279M146.6,261.4V296.9M147.4,276.6V303.7M148.3,285.2V310.2M149.2,266.6V300.4M150,260.9V287.6M150.9,260.8V285.4M151.7,262.1V295.2M152.6,267.2V303.2M153.5,275.7V306.7M154.3,269.8V301.8M155.2,267.6V298.4M156.1,255V292.6M156.9,252.2V290.7M157.8,263.5V289M158.7,274V300M159.5,279.9V305.6M160.4,266V290.8M161.3,250.3V275.7M162.1,250.6V282.5M163,260.4V287.5M163.9,266.9V293.2M164.7,277.6V303.2M165.6,269.7V298.1M166.4,267.6V300.1M167.3,261.4V291M168.2,250.8V290M169,263V287.7M169.9,265.3V299.2M170.8,279.7V305.2M171.6,282.5V307.8M172.5,272V301M173.4,264.7V294.7M174.2,256.6V288.9M175.1,255.3V286.8M176,261.4V291.6M176.8,268.4V297.3M177.7,277.1V302.3M178.6,270.2V299.5M179.4,261.1V285.5M180.3,242.6V277M181.2,256.2V287.2M182,262.5V294.8M182.9,273.4V301.6M183.8,260.2V298.2M184.6,253.9V281.5M185.5,256.7V296.7M186.3,253V304.3M187.2,271.9V298.3M188.1,266.2V302.5M188.9,264.1V291.3M189.8,254V284.8M190.7,251.6V279.2M191.5,264.3V294.8M192.4,273.8V298" stroke="#d07ad0" stroke-width="0.8" fill="none" opacity="1.0"/>
<path d="M52.9,317.5h2.2M52.9,345.3h2.2M53.8,285.1h2.2M53.8,316.7h2.2M54.6,293.4h2.2M54.6,322.2h2.2M55.5,298h2.2M55.5,340.3h2.2M56.4,292.6h2.2M56.4,334.5h2.2M57.2,286.9h2.2M57.2,317.7h2.2M58.1,282.2h2.2M58.1,307.6h2.2M59,273.1h2.2M59,301.6h2.2M59.8,282.9h2.2M59.8,318.8h2.2M60.7,289.3h2.2M60.7,327.6h2.2M61.5,301.3h2.2M61.5,328.6h2.2M62.4,285.8h2.2M62.4,320.6h2.2M63.3,281.9h2.2M63.3,307.9h2.2M64.1,277.7h2.2M64.1,307h2.2M65,280.4h2.2M65,308.2h2.2M65.9,284.7h2.2M65.9,310.9h2.2M66.7,291.5h2.2M66.7,315.8h2.2M67.6,300.3h2.2M67.6,324.9h2.2M68.5,288.9h2.2M68.5,319.3h2.2M69.3,286.8h2.2M69.3,312.3h2.2M70.2,280.4h2.2M70.2,316.7h2.2M71.1,285.8h2.2M71.1,310.9h2.2M71.9,292.7h2.2M71.9,326h2.2M72.8,301.7h2.2M72.8,326.9h2.2M73.7,295h2.2M73.7,320.6h2.2M74.5,274.7h2.2M74.5,317.6h2.2M75.4,265.9h2.2M75.4,291.1h2.2M76.3,281.8h2.2M76.3,306.9h2.2M77.1,277.5h2.2M77.1,328.5h2.2M78,291.1h2.2M78,319.3h2.2M78.9,296.7h2.2M78.9,337.2h2.2M79.7,292.5h2.2M79.7,328.4h2.2M80.6,280.7h2.2M80.6,321.2h2.2M81.4,280h2.2M81.4,313.3h2.2M82.3,274.9h2.2M82.3,307.9h2.2M83.2,295.6h2.2M83.2,326.2h2.2M84,292h2.2M84,323.5h2.2M84.9,284.9h2.2M84.9,314h2.2M85.8,278.9h2.2M85.8,307.9h2.2M86.6,280h2.2M86.6,309.1h2.2M87.5,287.4h2.2M87.5,311.7h2.2M88.4,286.3h2.2M88.4,317.7h2.2M89.2,277.7h2.2M89.2,311.7h2.2M90.1,276.7h2.2M90.1,305.9h2.2M91,269.2h2.2M91,299.4h2.2M91.8,278.6h2.2M91.8,304.2h2.2M92.7,290.9h2.2M92.7,315.2h2.2M93.6,292.9h2.2M93.6,325.3h2.2M94.4,293.1h2.2M94.4,328.4h2.2M95.3,285.7h2.2M95.3,310.5h2.2M96.2,273.1h2.2M96.2,308h2.2M97,266.3h2.2M97,294.5h2.2M97.9,270.6h2.2M97.9,300.7h2.2M98.7,286.1h2.2M98.7,315.6h2.2M99.6,288.5h2.2M99.6,322.5h2.2M100.5,286.2h2.2M100.5,317.8h2.2M101.3,267.3h2.2M101.3,307.3h2.2M102.2,259.3h2.2M102.2,288.2h2.2M103.1,266.9h2.2M103.1,294h2.2M103.9,270.6h2.2M103.9,301.2h2.2M104.8,276h2.2M104.8,312.8h2.2M105.7,286.1h2.2M105.7,328.4h2.2M106.5,294.6h2.2M106.5,323h2.2M107.4,288.8h2.2M107.4,314.4h2.2M108.3,274.7h2.2M108.3,306.2h2.2M109.1,269.1h2.2M109.1,299.2h2.2M110,268.1h2.2M110,305.6h2.2M110.9,279.2h2.2M110.9,303.8h2.2M111.7,287.8h2.2M111.7,312.4h2.2M112.6,273.3h2.2M112.6,298.6h2.2M113.5,256.3h2.2M113.5,289.9h2.2M114.3,266.3h2.2M114.3,303h2.2M115.2,282.3h2.2M115.2,306.4h2.2M116,296.6h2.2M116,320.7h2.2M116.9,279.4h2.2M116.9,308.2h2.2M117.8,267.2h2.2M117.8,292.8h2.2M118.6,254.1h2.2M118.6,284h2.2M119.5,260.5h2.2M119.5,292.5h2.2M120.4,257.7h2.2M120.4,299.9h2.2M121.2,274.1h2.2M121.2,302.6h2.2M122.1,283.6h2.2M122.1,308h2.2M123,268.2h2.2M123,292.4h2.2M123.8,257.7h2.2M123.8,286.2h2.2M124.7,257.7h2.2M124.7,288.5h2.2M125.6,270.6h2.2M125.6,303.3h2.2M126.4,286.1h2.2M126.4,318.4h2.2M127.3,290.6h2.2M127.3,322.9h2.2M128.2,279.6h2.2M128.2,305.1h2.2M129,265h2.2M129,293.8h2.2M129.9,263.5h2.2M129.9,293.4h2.2M130.8,273.5h2.2M130.8,309.4h2.2M131.6,282.2h2.2M131.6,313h2.2M132.5,283.3h2.2M132.5,316.6h2.2M133.3,278.2h2.2M133.3,304.9h2.2M134.2,270.5h2.2M134.2,298.4h2.2M135.1,260.5h2.2M135.1,298.5h2.2M135.9,275h2.2M135.9,308.3h2.2M136.8,278.6h2.2M136.8,318.7h2.2M137.7,282h2.2M137.7,308.3h2.2M138.5,284.1h2.2M138.5,311h2.2M139.4,268h2.2M139.4,307.2h2.2M140.3,261.2h2.2M140.3,290.6h2.2M141.1,262.8h2.2M141.1,290.7h2.2M142,275.8h2.2M142,303.6h2.2M142.9,280.2h2.2M142.9,304h2.2M143.7,264.9h2.2M143.7,291.2h2.2M144.6,250.7h2.2M144.6,279h2.2M145.5,261.4h2.2M145.5,296.9h2.2M146.3,276.6h2.2M146.3,303.7h2.2M147.2,285.2h2.2M147.2,310.2h2.2M148.1,266.6h2.2M148.1,300.4h2.2M148.9,260.9h2.2M148.9,287.6h2.2M149.8,260.8h2.2M149.8,285.4h2.2M150.6,262.1h2.2M150.6,295.2h2.2M151.5,267.2h2.2M151.5,303.2h2.2M152.4,275.7h2.2M152.4,306.7h2.2M153.2,269.8h2.2M153.2,301.8h2.2M154.1,267.6h2.2M154.1,298.4h2.2M155,255h2.2M155,292.6h2.2M155.8,252.2h2.2M155.8,290.7h2.2M156.7,263.5h2.2M156.7,289h2.2M157.6,274h2.2M157.6,300h2.2M158.4,279.9h2.2M158.4,305.6h2.2M159.3,266h2.2M159.3,290.8h2.2M160.2,250.3h2.2M160.2,275.7h2.2M161,250.6h2.2M161,282.5h2.2M161.9,260.4h2.2M161.9,287.5h2.2M162.8,266.9h2.2M162.8,293.2h2.2M163.6,277.6h2.2M163.6,303.2h2.2M164.5,269.7h2.2M164.5,298.1h2.2M165.3,267.6h2.2M165.3,300.1h2.2M166.2,261.4h2.2M166.2,291h2.2M167.1,250.8h2.2M167.1,290h2.2M167.9,263h2.2M167.9,287.7h2.2M168.8,265.3h2.2M168.8,299.2h2.2M169.7,279.7h2.2M169.7,305.2h2.2M170.5,282.5h2.2M170.5,307.8h2.2M171.4,272h2.2M171.4,301h2.2M172.3,264.7h2.2M172.3,294.7h2.2M173.1,256.6h2.2M173.1,288.9h2.2M174,255.3h2.2M174,286.8h2.2M174.9,261.4h2.2M174.9,291.6h2.2M175.7,268.4h2.2M175.7,297.3h2.2M176.6,277.1h2.2M176.6,302.3h2.2M177.5,270.2h2.2M177.5,299.5h2.2M178.3,261.1h2.2M178.3,285.5h2.2M179.2,242.6h2.2M179.2,277h2.2M180.1,256.2h2.2M180.1,287.2h2.2M180.9,262.5h2.2M180.9,294.8h2.2M181.8,273.4h2.2M181.8,301.6h2.2M182.7,260.2h2.2M182.7,298.2h2.2M183.5,253.9h2.2M183.5,281.5h2.2M184.4,256.7h2.2M184.4,296.7h2.2M185.2,253h2.2M185.2,304.3h2.2M186.1,271.9h2.2M186.1,298.3h2.2M187,266.2h2.2M187,302.5h2.2M187.8,264.1h2.2M187.8,291.3h2.2M188.7,254h2.2M188.7,284.8h2.2M189.6,251.6h2.2M189.6,279.2h2.2M190.4,264.3h2.2M190.4,294.8h2.2M191.3,273.8h2.2M191.3,298h2.2" stroke="#c020c8" stroke-width="1.0" fill="none"/>
<polyline points="54,331.4 54.9,300.9 55.7,307.8 56.6,319.1 57.5,313.5 58.3,302.3 59.2,294.9 60.1,287.3 60.9,300.8 61.8,308.4 62.6,315 63.5,303.2 64.4,294.9 65.2,292.3 66.1,294.3 67,297.8 67.8,303.6 68.7,312.6 69.6,304.1 70.4,299.6 71.3,298.5 72.2,298.3 73,309.4 73.9,314.3 74.8,307.8 75.6,296.2 76.5,278.5 77.4,294.3 78.2,303 79.1,305.2 80,316.9 80.8,310.5 81.7,300.9 82.5,296.7 83.4,291.4 84.3,310.9 85.1,307.7 86,299.4 86.9,293.4 87.7,294.5 88.6,299.5 89.5,302 90.3,294.7 91.2,291.3 92.1,284.3 92.9,291.4 93.8,303.1 94.7,309.1 95.5,310.7 96.4,298.1 97.2,290.6 98.1,280.4 99,285.6 99.8,300.8 100.7,305.5 101.6,302 102.4,287.3 103.3,273.7 104.2,280.5 105,285.9 105.9,294.4 106.8,307.3 107.6,308.8 108.5,301.6 109.4,290.4 110.2,284.1 111.1,286.9 112,291.5 112.8,300.1 113.7,286 114.5,273.1 115.4,284.6 116.3,294.3 117.1,308.6 118,293.8 118.9,280 119.7,269.1 120.6,276.5 121.5,278.8 122.3,288.4 123.2,295.8 124.1,280.3 124.9,272 125.8,273.1 126.7,287 127.5,302.2 128.4,306.8 129.3,292.3 130.1,279.4 131,278.5 131.8,291.5 132.7,297.6 133.6,299.9 134.4,291.5 135.3,284.5 136.2,279.5 137,291.7 137.9,298.7 138.8,295.1 139.6,297.6 140.5,287.6 141.4,275.9 142.2,276.7 143.1,289.7 144,292.1 144.8,278.1 145.7,264.8 146.6,279.1 147.4,290.1 148.3,297.7 149.2,283.5 150,274.3 150.9,273.1 151.7,278.6 152.6,285.2 153.5,291.2 154.3,285.8 155.2,283 156.1,273.8 156.9,271.4 157.8,276.2 158.7,287 159.5,292.8 160.4,278.4 161.3,263 162.1,266.5 163,273.9 163.9,280.1 164.7,290.4 165.6,283.9 166.4,283.8 167.3,276.2 168.2,270.4 169,275.3 169.9,282.2 170.8,292.5 171.6,295.2 172.5,286.5 173.4,279.7 174.2,272.7 175.1,271.1 176,276.5 176.8,282.9 177.7,289.7 178.6,284.9 179.4,273.3 180.3,259.8 181.2,271.7 182,278.7 182.9,287.5 183.8,279.2 184.6,267.7 185.5,276.7 186.3,278.6 187.2,285.1 188.1,284.4 188.9,277.7 189.8,269.4 190.7,265.4 191.5,279.5 192.4,285.9" fill="none" stroke="#c020c8" stroke-width="2.8" stroke-linejoin="round" />
<path d="M60.9,291.8V306.9M61.8,288.9V300.2M62.6,284.9V300.9M63.5,284.2V296.9M64.4,280.7V294.3M65.2,278.9V290.9M66.1,273.7V291.5M67,275.9V288.3M67.8,271.2V286.2M68.7,269.5V283.4M69.6,270.2V282.3M70.4,268.5V280.3M71.3,266.7V278.2M72.2,259.2V278.8M73,264.1V280.5M73.9,262.5V274.6M74.8,256V270.1M75.6,254.7V268M76.5,256.5V268.4M77.4,250.7V265M78.2,255.1V265.5M79.1,253.6V264.6M80,249.1V263.4M80.8,246.2V260.3M81.7,247.4V259.2M82.5,244.9V256.2M83.4,244V257.1M84.3,243.4V255.9M85.1,243.9V258.1M86,245.4V256.8M86.9,244.4V256.4M87.7,239.8V252.3M88.6,237.7V255M89.5,239.8V250.6M90.3,236V250.6M91.2,239.1V249.6M92.1,235.2V253.6M92.9,238V249.7M93.8,238.3V252.1M94.7,234.6V247.8M95.5,232V246.9M96.4,235.4V246.1M97.2,233.7V244.6M98.1,230V249.6M99,232.5V244.3M99.8,229.4V240.9M100.7,230.1V241.3M101.6,228.2V240.4M102.4,225.1V242.5M103.3,227V239.9M104.2,227.9V242.9M105,224.5V240.5M105.9,225.6V239.2M106.8,226V241M107.6,222.5V237M108.5,221.9V235M109.4,223.6V239.8M110.2,224.8V236.7M111.1,220.2V237.7M112,221.9V233.9M112.8,218.9V230.8M113.7,220.3V232.9M114.5,218.8V230.5M115.4,219.4V231.4M116.3,217.8V231.9M117.1,220.2V231.4M118,217.2V230.1M118.9,218.2V231.2M119.7,216.4V228.4M120.6,213.9V228.6M121.5,213.8V228.2M122.3,214V229.3M123.2,215.9V229M124.1,213V225.3M124.9,216V226.6M125.8,215.7V227.5M126.7,218V229.8M127.5,214.1V225.3M128.4,212.4V230.2M129.3,214.8V225.5M130.1,211.6V224.6M131,210.1V221.3M131.8,208.1V225.6M132.7,209.4V222.2M133.6,212.3V224.4M134.4,212.5V226M135.3,210.6V220.9M136.2,209.7V224M137,212.8V223.6M137.9,210.2V220.9M138.8,210.1V225M139.6,206V216.2M140.5,205.4V226.2M141.4,206.2V219.8M142.2,208.4V221.4M143.1,211.4V222.8M144,209.9V220.5M144.8,204.3V221.3M145.7,206.6V222.1M146.6,207.6V218.7M147.4,207.2V220.7M148.3,208.7V219.7M149.2,210.4V222.4M150,207V220.8M150.9,206.6V225.3M151.7,209.3V220.7M152.6,205.1V216.6M153.5,209.9V220.7M154.3,209.2V219.7M155.2,206.9V219.7M156.1,204.8V222.1M156.9,207.3V219.1M157.8,204.9V218.6M158.7,205V216.2M159.5,206.2V221.2M160.4,205.5V219.4M161.3,204.1V220.2M162.1,207.1V221.2M163,205V218.3M163.9,205.9V219.4M164.7,207.1V219.8M165.6,205.2V218.7M166.4,209.7V220.1M167.3,206.1V218.4M168.2,206.6V218.3M169,204.8V217.3M169.9,203.8V216.6M170.8,203.8V217.6M171.6,205.5V219.5M172.5,206.3V219.1M173.4,205.3V216.1M174.2,206.1V217.1M175.1,207.1V217.4M176,203.3V217M176.8,204.5V216.4M177.7,206.7V219.3M178.6,206.5V218.8M179.4,205.4V221.2M180.3,207.1V218.5M181.2,197.9V220.1M182,206.4V216.9M182.9,203.8V221.2M183.8,204.7V217M184.6,205.1V217.1M185.5,204.4V216.8M186.3,206.2V219.5M187.2,202V216.2M188.1,207.4V219.9M188.9,205.3V216.9M189.8,201.7V217.9M190.7,203.5V218.5M191.5,203.3V217.7M192.4,204.2V217.8" stroke="#0d5a0d" stroke-width="0.9" fill="none" opacity="1"/>
<path d="M59.8,291.8h2.2M59.8,306.9h2.2M60.7,288.9h2.2M60.7,300.2h2.2M61.5,284.9h2.2M61.5,300.9h2.2M62.4,284.2h2.2M62.4,296.9h2.2M63.3,280.7h2.2M63.3,294.3h2.2M64.1,278.9h2.2M64.1,290.9h2.2M65,273.7h2.2M65,291.5h2.2M65.9,275.9h2.2M65.9,288.3h2.2M66.7,271.2h2.2M66.7,286.2h2.2M67.6,269.5h2.2M67.6,283.4h2.2M68.5,270.2h2.2M68.5,282.3h2.2M69.3,268.5h2.2M69.3,280.3h2.2M70.2,266.7h2.2M70.2,278.2h2.2M71.1,259.2h2.2M71.1,278.8h2.2M71.9,264.1h2.2M71.9,280.5h2.2M72.8,262.5h2.2M72.8,274.6h2.2M73.7,256h2.2M73.7,270.1h2.2M74.5,254.7h2.2M74.5,268h2.2M75.4,256.5h2.2M75.4,268.4h2.2M76.3,250.7h2.2M76.3,265h2.2M77.1,255.1h2.2M77.1,265.5h2.2M78,253.6h2.2M78,264.6h2.2M78.9,249.1h2.2M78.9,263.4h2.2M79.7,246.2h2.2M79.7,260.3h2.2M80.6,247.4h2.2M80.6,259.2h2.2M81.4,244.9h2.2M81.4,256.2h2.2M82.3,244h2.2M82.3,257.1h2.2M83.2,243.4h2.2M83.2,255.9h2.2M84,243.9h2.2M84,258.1h2.2M84.9,245.4h2.2M84.9,256.8h2.2M85.8,244.4h2.2M85.8,256.4h2.2M86.6,239.8h2.2M86.6,252.3h2.2M87.5,237.7h2.2M87.5,255h2.2M88.4,239.8h2.2M88.4,250.6h2.2M89.2,236h2.2M89.2,250.6h2.2M90.1,239.1h2.2M90.1,249.6h2.2M91,235.2h2.2M91,253.6h2.2M91.8,238h2.2M91.8,249.7h2.2M92.7,238.3h2.2M92.7,252.1h2.2M93.6,234.6h2.2M93.6,247.8h2.2M94.4,232h2.2M94.4,246.9h2.2M95.3,235.4h2.2M95.3,246.1h2.2M96.2,233.7h2.2M96.2,244.6h2.2M97,230h2.2M97,249.6h2.2M97.9,232.5h2.2M97.9,244.3h2.2M98.7,229.4h2.2M98.7,240.9h2.2M99.6,230.1h2.2M99.6,241.3h2.2M100.5,228.2h2.2M100.5,240.4h2.2M101.3,225.1h2.2M101.3,242.5h2.2M102.2,227h2.2M102.2,239.9h2.2M103.1,227.9h2.2M103.1,242.9h2.2M103.9,224.5h2.2M103.9,240.5h2.2M104.8,225.6h2.2M104.8,239.2h2.2M105.7,226h2.2M105.7,241h2.2M106.5,222.5h2.2M106.5,237h2.2M107.4,221.9h2.2M107.4,235h2.2M108.3,223.6h2.2M108.3,239.8h2.2M109.1,224.8h2.2M109.1,236.7h2.2M110,220.2h2.2M110,237.7h2.2M110.9,221.9h2.2M110.9,233.9h2.2M111.7,218.9h2.2M111.7,230.8h2.2M112.6,220.3h2.2M112.6,232.9h2.2M113.5,218.8h2.2M113.5,230.5h2.2M114.3,219.4h2.2M114.3,231.4h2.2M115.2,217.8h2.2M115.2,231.9h2.2M116,220.2h2.2M116,231.4h2.2M116.9,217.2h2.2M116.9,230.1h2.2M117.8,218.2h2.2M117.8,231.2h2.2M118.6,216.4h2.2M118.6,228.4h2.2M119.5,213.9h2.2M119.5,228.6h2.2M120.4,213.8h2.2M120.4,228.2h2.2M121.2,214h2.2M121.2,229.3h2.2M122.1,215.9h2.2M122.1,229h2.2M123,213h2.2M123,225.3h2.2M123.8,216h2.2M123.8,226.6h2.2M124.7,215.7h2.2M124.7,227.5h2.2M125.6,218h2.2M125.6,229.8h2.2M126.4,214.1h2.2M126.4,225.3h2.2M127.3,212.4h2.2M127.3,230.2h2.2M128.2,214.8h2.2M128.2,225.5h2.2M129,211.6h2.2M129,224.6h2.2M129.9,210.1h2.2M129.9,221.3h2.2M130.8,208.1h2.2M130.8,225.6h2.2M131.6,209.4h2.2M131.6,222.2h2.2M132.5,212.3h2.2M132.5,224.4h2.2M133.3,212.5h2.2M133.3,226h2.2M134.2,210.6h2.2M134.2,220.9h2.2M135.1,209.7h2.2M135.1,224h2.2M135.9,212.8h2.2M135.9,223.6h2.2M136.8,210.2h2.2M136.8,220.9h2.2M137.7,210.1h2.2M137.7,225h2.2M138.5,206h2.2M138.5,216.2h2.2M139.4,205.4h2.2M139.4,226.2h2.2M140.3,206.2h2.2M140.3,219.8h2.2M141.1,208.4h2.2M141.1,221.4h2.2M142,211.4h2.2M142,222.8h2.2M142.9,209.9h2.2M142.9,220.5h2.2M143.7,204.3h2.2M143.7,221.3h2.2M144.6,206.6h2.2M144.6,222.1h2.2M145.5,207.6h2.2M145.5,218.7h2.2M146.3,207.2h2.2M146.3,220.7h2.2M147.2,208.7h2.2M147.2,219.7h2.2M148.1,210.4h2.2M148.1,222.4h2.2M148.9,207h2.2M148.9,220.8h2.2M149.8,206.6h2.2M149.8,225.3h2.2M150.6,209.3h2.2M150.6,220.7h2.2M151.5,205.1h2.2M151.5,216.6h2.2M152.4,209.9h2.2M152.4,220.7h2.2M153.2,209.2h2.2M153.2,219.7h2.2M154.1,206.9h2.2M154.1,219.7h2.2M155,204.8h2.2M155,222.1h2.2M155.8,207.3h2.2M155.8,219.1h2.2M156.7,204.9h2.2M156.7,218.6h2.2M157.6,205h2.2M157.6,216.2h2.2M158.4,206.2h2.2M158.4,221.2h2.2M159.3,205.5h2.2M159.3,219.4h2.2M160.2,204.1h2.2M160.2,220.2h2.2M161,207.1h2.2M161,221.2h2.2M161.9,205h2.2M161.9,218.3h2.2M162.8,205.9h2.2M162.8,219.4h2.2M163.6,207.1h2.2M163.6,219.8h2.2M164.5,205.2h2.2M164.5,218.7h2.2M165.3,209.7h2.2M165.3,220.1h2.2M166.2,206.1h2.2M166.2,218.4h2.2M167.1,206.6h2.2M167.1,218.3h2.2M167.9,204.8h2.2M167.9,217.3h2.2M168.8,203.8h2.2M168.8,216.6h2.2M169.7,203.8h2.2M169.7,217.6h2.2M170.5,205.5h2.2M170.5,219.5h2.2M171.4,206.3h2.2M171.4,219.1h2.2M172.3,205.3h2.2M172.3,216.1h2.2M173.1,206.1h2.2M173.1,217.1h2.2M174,207.1h2.2M174,217.4h2.2M174.9,203.3h2.2M174.9,217h2.2M175.7,204.5h2.2M175.7,216.4h2.2M176.6,206.7h2.2M176.6,219.3h2.2M177.5,206.5h2.2M177.5,218.8h2.2M178.3,205.4h2.2M178.3,221.2h2.2M179.2,207.1h2.2M179.2,218.5h2.2M180.1,197.9h2.2M180.1,220.1h2.2M180.9,206.4h2.2M180.9,216.9h2.2M181.8,203.8h2.2M181.8,221.2h2.2M182.7,204.7h2.2M182.7,217h2.2M183.5,205.1h2.2M183.5,217.1h2.2M184.4,204.4h2.2M184.4,216.8h2.2M185.2,206.2h2.2M185.2,219.5h2.2M186.1,202h2.2M186.1,216.2h2.2M187,207.4h2.2M187,219.9h2.2M187.8,205.3h2.2M187.8,216.9h2.2M188.7,201.7h2.2M188.7,217.9h2.2M189.6,203.5h2.2M189.6,218.5h2.2M190.4,203.3h2.2M190.4,217.7h2.2M191.3,204.2h2.2M191.3,217.8h2.2" stroke="#0a640a" stroke-width="1.0" fill="none"/>
<polyline points="60.9,299.4 61.8,294.6 62.6,292.9 63.5,290.5 64.4,287.5 65.2,284.9 66.1,282.6 67,282.1 67.8,278.7 68.7,276.4 69.6,276.3 70.4,274.4 71.3,272.4 72.2,269 73,272.3 73.9,268.5 74.8,263 75.6,261.4 76.5,262.4 77.4,257.9 78.2,260.3 79.1,259.1 80,256.3 80.8,253.3 81.7,253.3 82.5,250.6 83.4,250.6 84.3,249.6 85.1,251 86,251.1 86.9,250.4 87.7,246.1 88.6,246.4 89.5,245.2 90.3,243.3 91.2,244.3 92.1,244.4 92.9,243.8 93.8,245.2 94.7,241.2 95.5,239.5 96.4,240.7 97.2,239.1 98.1,239.8 99,238.4 99.8,235.1 100.7,235.7 101.6,234.3 102.4,233.8 103.3,233.5 104.2,235.4 105,232.5 105.9,232.4 106.8,233.5 107.6,229.7 108.5,228.4 109.4,231.7 110.2,230.7 111.1,229 112,227.9 112.8,224.8 113.7,226.6 114.5,224.6 115.4,225.4 116.3,224.8 117.1,225.8 118,223.7 118.9,224.7 119.7,222.4 120.6,221.3 121.5,221 122.3,221.6 123.2,222.5 124.1,219.1 124.9,221.3 125.8,221.6 126.7,223.9 127.5,219.7 128.4,221.3 129.3,220.1 130.1,218.1 131,215.7 131.8,216.9 132.7,215.8 133.6,218.3 134.4,219.3 135.3,215.8 136.2,216.8 137,218.2 137.9,215.6 138.8,217.5 139.6,211.1 140.5,215.8 141.4,213 142.2,214.9 143.1,217.1 144,215.2 144.8,212.8 145.7,214.3 146.6,213.1 147.4,214 148.3,214.2 149.2,216.4 150,213.9 150.9,215.9 151.7,215 152.6,210.8 153.5,215.3 154.3,214.4 155.2,213.3 156.1,213.5 156.9,213.2 157.8,211.8 158.7,210.6 159.5,213.7 160.4,212.4 161.3,212.1 162.1,214.1 163,211.7 163.9,212.7 164.7,213.4 165.6,211.9 166.4,214.9 167.3,212.3 168.2,212.4 169,211.1 169.9,210.2 170.8,210.7 171.6,212.5 172.5,212.7 173.4,210.7 174.2,211.6 175.1,212.2 176,210.2 176.8,210.5 177.7,213 178.6,212.7 179.4,213.3 180.3,212.8 181.2,209 182,211.6 182.9,212.5 183.8,210.8 184.6,211.1 185.5,210.6 186.3,212.8 187.2,209.1 188.1,213.7 188.9,211.1 189.8,209.8 190.7,211 191.5,210.5 192.4,211" fill="none" stroke="#0a640a" stroke-width="2.2" stroke-linejoin="round" />
<path d="M158.8,218.5V268.5M157,218.5h3.6M157,268.5h3.6" stroke="#d42c2c" stroke-width="1.1" fill="none"/>
<path d="M210,214.5V266.2M208.2,214.5h3.6M208.2,266.2h3.6" stroke="#d42c2c" stroke-width="1.1" fill="none"/>
<path d="M262.2,233V278.5M260.4,233h3.6M260.4,278.5h3.6" stroke="#d42c2c" stroke-width="1.1" fill="none"/>
<path d="M274.8,237.7V300.8M273,237.7h3.6M273,300.8h3.6" stroke="#d42c2c" stroke-width="1.1" fill="none"/>
<path d="M279,244V289M277.2,244h3.6M277.2,289h3.6" stroke="#d42c2c" stroke-width="1.1" fill="none"/>
<path d="M283.3,239.4V312.3M281.5,239.4h3.6M281.5,312.3h3.6" stroke="#d42c2c" stroke-width="1.1" fill="none"/>
<path d="M291.9,234.2V280.4M290.1,234.2h3.6M290.1,280.4h3.6" stroke="#d42c2c" stroke-width="1.1" fill="none"/>
<path d="M304.4,233.7V286M302.6,233.7h3.6M302.6,286h3.6" stroke="#d42c2c" stroke-width="1.1" fill="none"/>
<path d="M316.9,245.4V293.8M315.1,245.4h3.6M315.1,293.8h3.6" stroke="#d42c2c" stroke-width="1.1" fill="none"/>
<path d="M365.8,285V325.8M364,285h3.6M364,325.8h3.6" stroke="#d42c2c" stroke-width="1.1" fill="none"/>
<path d="M466.2,318.8V353.6M464.4,318.8h3.6M464.4,353.6h3.6" stroke="#d42c2c" stroke-width="1.1" fill="none"/>
<path d="M275,195V206M273.2,195h3.6M273.2,206h3.6" stroke="#111" stroke-width="1.4" fill="none"/>
<path d="M283,217V227M281.2,217h3.6M281.2,227h3.6" stroke="#111" stroke-width="1.4" fill="none"/>
<path d="M292,219V231M290.2,219h3.6M290.2,231h3.6" stroke="#111" stroke-width="1.4" fill="none"/>
<path d="M304,215V225M302.2,215h3.6M302.2,225h3.6" stroke="#111" stroke-width="1.4" fill="none"/>
<path d="M366,199.5V219M364.2,199.5h3.6M364.2,219h3.6" stroke="#111" stroke-width="1.4" fill="none"/>
<path d="M466.2,197V218M464.4,197h3.6M464.4,218h3.6" stroke="#111" stroke-width="1.4" fill="none"/>
<path d="M283,206V226M281.2,206h3.6M281.2,226h3.6" stroke="#c060c8" stroke-width="1.1" fill="none"/>
<path d="M292,203V226M290.2,203h3.6M290.2,226h3.6" stroke="#c060c8" stroke-width="1.1" fill="none"/>
<path d="M304.3,228V250M302.5,228h3.6M302.5,250h3.6" stroke="#c060c8" stroke-width="1.1" fill="none"/>
<path d="M365.8,217V235M364,217h3.6M364,235h3.6" stroke="#c060c8" stroke-width="1.1" fill="none"/>
<path d="M466.2,219V238M464.4,219h3.6M464.4,238h3.6" stroke="#c060c8" stroke-width="1.1" fill="none"/>
<path d="M274.8,257V269M273,257h3.6M273,269h3.6" stroke="#2a6a2a" stroke-width="1.1" fill="none"/>
<path d="M283,274V296M281.2,274h3.6M281.2,296h3.6" stroke="#2a6a2a" stroke-width="1.1" fill="none"/>
<path d="M291.5,276V297M289.7,276h3.6M289.7,297h3.6" stroke="#2a6a2a" stroke-width="1.1" fill="none"/>
<path d="M304.6,288.4V329.2M302.8,288.4h3.6M302.8,329.2h3.6" stroke="#2a6a2a" stroke-width="1.1" fill="none"/>
<path d="M365.8,252.5V290.5M364,252.5h3.6M364,290.5h3.6" stroke="#2a6a2a" stroke-width="1.1" fill="none"/>
<path d="M466.2,224V241M464.4,224h3.6M464.4,241h3.6" stroke="#2a6a2a" stroke-width="1.1" fill="none"/>
<path d="M275.2,348.5V356M273.4,348.5h3.6M273.4,356h3.6" stroke="#0c0c7a" stroke-width="1.1" fill="none"/>
<path d="M283.3,356.5V363M281.5,356.5h3.6M281.5,363h3.6" stroke="#0c0c7a" stroke-width="1.1" fill="none"/>
<path d="M291.9,353V360.5M290.1,353h3.6M290.1,360.5h3.6" stroke="#0c0c7a" stroke-width="1.1" fill="none"/>
<path d="M304.4,353V360M302.6,353h3.6M302.6,360h3.6" stroke="#0c0c7a" stroke-width="1.1" fill="none"/>
<path d="M365.8,349V356.5M364,349h3.6M364,356.5h3.6" stroke="#0c0c7a" stroke-width="1.1" fill="none"/>
<path d="M466.2,350V362M464.4,350h3.6M464.4,362h3.6" stroke="#0c0c7a" stroke-width="1.1" fill="none"/>
<polyline points="191.5,212.7 262.2,255.2 274.8,263 283,285 291.5,286.2 304.6,308.5 365.8,271.5 466.2,231" fill="none" stroke="#0a640a" stroke-width="2.4" stroke-linejoin="round" />
<polyline points="191.5,247.3 275,200.4 283,221.9 292,225.3 304,220 366,208.5 466.2,207.5" fill="none" stroke="#000" stroke-width="2.4" stroke-linejoin="round" />
<polyline points="192.3,277 262.2,255.2 275,250.4 283,215.8 292,214 304.3,239 365.8,225.8 466.2,228.3" fill="none" stroke="#c020c8" stroke-width="2.4" stroke-linejoin="round" />
<polyline points="192.7,326 262,348.5 275.2,352.3 283.3,359.8 291.9,356.7 304.4,356.3 365.8,352.8 466.2,356.2" fill="none" stroke="#0c0c7a" stroke-width="2.4" stroke-linejoin="round" />
<polyline points="158.8,243.4 210,240.4 262.2,255.2 274.8,267.7 279,256.2 283.3,276.3 291.9,260.8 304.4,259.4 316.9,269.2 365.8,306 466.2,336.2" fill="none" stroke="#e0191b" stroke-width="2.4" stroke-linejoin="round" />
<rect x="265.2" y="190" width="2.6" height="196" fill="#fff"/>
<text x="286.2" y="271.5" font-size="14" text-anchor="middle" fill="#1a1a2a" font-weight="normal" >*</text>
<text x="295.8" y="279.5" font-size="14" text-anchor="middle" fill="#1a1a2a" font-weight="normal" >*</text>
<text x="308.2" y="285.7" font-size="14" text-anchor="middle" fill="#1a1a2a" font-weight="normal" >*</text>
<text transform="translate(25.1,290.1) rotate(-90)" font-size="12.6" text-anchor="middle" fill="#222">Counts in organs (% maximum)</text>
<text transform="translate(508.3,290.4) rotate(90)" font-size="12.6" text-anchor="middle" fill="#222">% of injected 111-Indium-EO</text>
<text transform="translate(495,290.7) rotate(90)" font-size="12.6" text-anchor="middle" fill="#222">remaining in blood</text>
<text x="460.5" y="205" font-size="12.6" text-anchor="end" fill="#111" font-weight="normal" >Spleen</text>
<text x="460.3" y="224.2" font-size="12.6" text-anchor="end" fill="#9428b6" font-weight="normal" >Bone marrow</text>
<text x="460.3" y="258.9" font-size="12.6" text-anchor="end" fill="#236a3e" font-weight="normal" >Liver</text>
<text x="460.5" y="318.8" font-size="12.6" text-anchor="end" fill="#cc2a2a" font-weight="normal" >Blood</text>
<text x="460.3" y="348.6" font-size="12.6" text-anchor="end" fill="#1c1c96" font-weight="normal" >Lung</text>
<text x="16.2" y="471.6" font-size="17.5" text-anchor="start" fill="#111" font-weight="bold" >C</text>
<path d="M59.7,682.7 L60.9,678.9 L62.1,677.5 L63.3,676.1 L64.5,673.3 L65.7,674.9 L66.9,675.3 L68.1,673.8 L69.3,671.9 L70.5,672.2 L71.7,671.1 L72.9,670.2 L74.1,667.8 L75.3,670.8 L76.5,670.8 L77.7,669.9 L78.9,668.8 L80.1,666.5 L81.3,666.5 L82.5,667 L83.7,667.3 L84.9,665.7 L86.1,668.3 L87.3,666 L88.5,665.4 L89.7,665.8 L90.9,665.5 L92.1,663.5 L93.3,666.1 L94.5,664.1 L95.7,664.9 L96.9,661.5 L98.1,662.4 L99.3,664.6 L100.5,662.2 L101.7,663.5 L102.9,663.7 L104.1,662.5 L105.3,663.5 L106.5,662.9 L107.7,661.8 L108.9,660.6 L110.1,658.8 L111.3,661.3 L112.5,660.6 L113.7,659.7 L114.9,661.4 L116.1,659.9 L117.3,658.8 L118.5,660.2 L119.7,657.4 L120.9,659.2 L122.1,658.1 L123.3,657.7 L124.5,655.9 L125.7,658.5 L126.9,656.6 L128.1,657.8 L129.3,657.6 L130.5,657.6 L131.7,656.8 L132.9,654.3 L134.1,654.5 L135.3,657.7 L136.5,656.3 L137.7,654.1 L138.9,657 L140.1,657.8 L141.3,655.1 L142.5,656.1 L143.7,655.4 L144.9,656.1 L146.1,655.2 L147.3,656.4 L148.5,654.1 L149.7,652.9 L150.9,653.6 L152.1,655.8 L153.3,654 L154.5,653.4 L155.7,655.6 L156.9,651.1 L158.1,652.3 L159.3,652.6 L160.5,654.1 L161.7,653.6 L162.9,650.8 L164.1,652.1 L165.3,651.4 L166.5,650.4 L167.7,650.8 L168.9,653.3 L170.1,651.2 L171.3,651.4 L172.5,654.7 L173.7,650.5 L174.9,649.1 L176.1,650.2 L177.3,646.4 L178.5,648.2 L179.7,650.7 L180.9,650.8 L182.1,650.3 L183.3,649.3 L184.5,650.6 L185.7,648.1 L186.9,645.1 L188.1,647.7 L189.3,649.3 L190.5,649.5 L191.7,645.9 L192.9,648.2 L194.1,647.7 L195.3,647.3 L196.5,646.8 L197.7,646.3 L198.9,646.3 L200.1,646.2 L201.3,647.3 L202.5,645.1 L203.7,648.5 L204.9,647.3 L206.1,648.1 L207.3,643.6 L208.5,645.8 L209.7,645.2 L210.9,646.7 L212.1,646.1 L213.3,644.4 L214.5,645.6 L215.7,642.4 L216.9,644 L218.1,647.5 L219.3,645.9 L220.5,643.2 L221.7,645 L222.9,645.9 L224.1,646.3 L225.3,644.2 L226.5,646.4 L227.7,646.2 L228.9,647.3 L230.1,645.5 L231.3,643 L232.5,647.2 L233.7,643.6 L234.9,643.9 L236.1,644.2 L237.3,646.5 L238.5,644.5 L239.7,645.7 L240.9,640.4 L242.1,644.9 L243.3,645.6 L244.5,643.3 L245.7,644.7 L246.9,642.8 L248.1,643.3 L249.3,643.9 L250.5,642.3 L250.5,659.3 L249.3,658.6 L248.1,660.5 L246.9,659.9 L245.7,658.8 L244.5,659.8 L243.3,658.2 L242.1,659.6 L240.9,660.2 L239.7,659.9 L238.5,660.3 L237.3,659.6 L236.1,660.9 L234.9,659.7 L233.7,661.7 L232.5,660.4 L231.3,661.6 L230.1,660 L228.9,661.3 L227.7,660.1 L226.5,659.6 L225.3,658.3 L224.1,658.1 L222.9,661.8 L221.7,658.3 L220.5,660.8 L219.3,658.2 L218.1,658.9 L216.9,660.7 L215.7,660.5 L214.5,661.6 L213.3,659.5 L212.1,660.3 L210.9,660.5 L209.7,662.4 L208.5,660.7 L207.3,662.5 L206.1,659.6 L204.9,660.3 L203.7,660.5 L202.5,663.2 L201.3,658.9 L200.1,663.6 L198.9,661.5 L197.7,660.3 L196.5,661 L195.3,660.9 L194.1,661.9 L192.9,659.6 L191.7,659.6 L190.5,661.9 L189.3,662.1 L188.1,664.1 L186.9,662.9 L185.7,665.5 L184.5,663.4 L183.3,662.9 L182.1,666.6 L180.9,662.6 L179.7,661.9 L178.5,664.5 L177.3,662.5 L176.1,665.7 L174.9,663.5 L173.7,664.7 L172.5,665.5 L171.3,663.4 L170.1,664.1 L168.9,664.7 L167.7,665.5 L166.5,666.5 L165.3,664.4 L164.1,667.3 L162.9,665.7 L161.7,664.7 L160.5,665.7 L159.3,667.8 L158.1,664.9 L156.9,666.5 L155.7,666.3 L154.5,663.6 L153.3,668.7 L152.1,666.3 L150.9,666.8 L149.7,668.8 L148.5,667.8 L147.3,666.1 L146.1,667.8 L144.9,668.5 L143.7,665.5 L142.5,666.6 L141.3,668.7 L140.1,668.3 L138.9,667.8 L137.7,668.4 L136.5,668 L135.3,667.1 L134.1,669.2 L132.9,669 L131.7,671.2 L130.5,668.1 L129.3,669.5 L128.1,668 L126.9,670.8 L125.7,668.2 L124.5,667.5 L123.3,668.4 L122.1,669.6 L120.9,670 L119.7,670.2 L118.5,673.6 L117.3,671 L116.1,670.6 L114.9,673.1 L113.7,672.4 L112.5,674.1 L111.3,672.3 L110.1,672.2 L108.9,673.4 L107.7,672.3 L106.5,672.1 L105.3,674.6 L104.1,671 L102.9,672.7 L101.7,673.2 L100.5,673.2 L99.3,672.9 L98.1,672.6 L96.9,674.5 L95.7,674.5 L94.5,676.5 L93.3,674 L92.1,673.6 L90.9,675.6 L89.7,676 L88.5,674.8 L87.3,676.5 L86.1,677.1 L84.9,677.3 L83.7,674.8 L82.5,675.2 L81.3,676.9 L80.1,676.8 L78.9,679.6 L77.7,680.4 L76.5,678.5 L75.3,679.6 L74.1,678.9 L72.9,679.2 L71.7,680.9 L70.5,680.7 L69.3,681.5 L68.1,683 L66.9,683.3 L65.7,681.8 L64.5,682.7 L63.3,682.8 L62.1,684.7 L60.9,686.7 L59.7,687Z" fill="#737373" stroke="none"/>
<path d="M59.7,682.7V687M63.3,676.1V682.8M66.9,675.3V683.3M70.5,672.2V680.7M74.1,667.8V678.9M77.7,669.9V680.4M81.3,666.5V676.9M84.9,665.7V677.3M88.5,665.4V674.8M92.1,663.5V673.6M95.7,664.9V674.5M99.3,664.6V672.9M102.9,663.7V672.7M106.5,662.9V672.1M110.1,658.8V672.2M113.7,659.7V672.4M117.3,658.8V671M120.9,659.2V670M124.5,655.9V667.5M128.1,657.8V668M131.7,656.8V671.2M135.3,657.7V667.1M138.9,657V667.8M142.5,656.1V666.6M146.1,655.2V667.8M149.7,652.9V668.8M153.3,654V668.7M156.9,651.1V666.5M160.5,654.1V665.7M164.1,652.1V667.3M167.7,650.8V665.5M171.3,651.4V663.4M174.9,649.1V663.5M178.5,648.2V664.5M182.1,650.3V666.6M185.7,648.1V665.5M189.3,649.3V662.1M192.9,648.2V659.6M196.5,646.8V661M200.1,646.2V663.6M203.7,648.5V660.5M207.3,643.6V662.5M210.9,646.7V660.5M214.5,645.6V661.6M218.1,647.5V658.9M221.7,645V658.3M225.3,644.2V658.3M228.9,647.3V661.3M232.5,647.2V660.4M236.1,644.2V660.9M239.7,645.7V659.9M243.3,645.6V658.2M246.9,642.8V659.9M250.5,642.3V659.3" stroke="#333" stroke-width="0.6" fill="none"/>
<path d="M58.6,682.7h2.2M58.6,687h2.2M61,677.5h2.2M61,684.7h2.2M63.4,673.3h2.2M63.4,682.7h2.2M65.8,675.3h2.2M65.8,683.3h2.2M68.2,671.9h2.2M68.2,681.5h2.2M70.6,671.1h2.2M70.6,680.9h2.2M73,667.8h2.2M73,678.9h2.2M75.4,670.8h2.2M75.4,678.5h2.2M77.8,668.8h2.2M77.8,679.6h2.2M80.2,666.5h2.2M80.2,676.9h2.2M82.6,667.3h2.2M82.6,674.8h2.2M85,668.3h2.2M85,677.1h2.2M87.4,665.4h2.2M87.4,674.8h2.2M89.8,665.5h2.2M89.8,675.6h2.2M92.2,666.1h2.2M92.2,674h2.2M94.6,664.9h2.2M94.6,674.5h2.2M97,662.4h2.2M97,672.6h2.2M99.4,662.2h2.2M99.4,673.2h2.2M101.8,663.7h2.2M101.8,672.7h2.2M104.2,663.5h2.2M104.2,674.6h2.2M106.6,661.8h2.2M106.6,672.3h2.2M109,658.8h2.2M109,672.2h2.2M111.4,660.6h2.2M111.4,674.1h2.2M113.8,661.4h2.2M113.8,673.1h2.2M116.2,658.8h2.2M116.2,671h2.2M118.6,657.4h2.2M118.6,670.2h2.2M121,658.1h2.2M121,669.6h2.2M123.4,655.9h2.2M123.4,667.5h2.2M125.8,656.6h2.2M125.8,670.8h2.2M128.2,657.6h2.2M128.2,669.5h2.2M130.6,656.8h2.2M130.6,671.2h2.2M133,654.5h2.2M133,669.2h2.2M135.4,656.3h2.2M135.4,668h2.2M137.8,657h2.2M137.8,667.8h2.2M140.2,655.1h2.2M140.2,668.7h2.2M142.6,655.4h2.2M142.6,665.5h2.2M145,655.2h2.2M145,667.8h2.2M147.4,654.1h2.2M147.4,667.8h2.2M149.8,653.6h2.2M149.8,666.8h2.2M152.2,654h2.2M152.2,668.7h2.2M154.6,655.6h2.2M154.6,666.3h2.2M157,652.3h2.2M157,664.9h2.2M159.4,654.1h2.2M159.4,665.7h2.2M161.8,650.8h2.2M161.8,665.7h2.2M164.2,651.4h2.2M164.2,664.4h2.2M166.6,650.8h2.2M166.6,665.5h2.2M169,651.2h2.2M169,664.1h2.2M171.4,654.7h2.2M171.4,665.5h2.2M173.8,649.1h2.2M173.8,663.5h2.2M176.2,646.4h2.2M176.2,662.5h2.2M178.6,650.7h2.2M178.6,661.9h2.2M181,650.3h2.2M181,666.6h2.2M183.4,650.6h2.2M183.4,663.4h2.2M185.8,645.1h2.2M185.8,662.9h2.2M188.2,649.3h2.2M188.2,662.1h2.2M190.6,645.9h2.2M190.6,659.6h2.2M193,647.7h2.2M193,661.9h2.2M195.4,646.8h2.2M195.4,661h2.2M197.8,646.3h2.2M197.8,661.5h2.2M200.2,647.3h2.2M200.2,658.9h2.2M202.6,648.5h2.2M202.6,660.5h2.2M205,648.1h2.2M205,659.6h2.2M207.4,645.8h2.2M207.4,660.7h2.2M209.8,646.7h2.2M209.8,660.5h2.2M212.2,644.4h2.2M212.2,659.5h2.2M214.6,642.4h2.2M214.6,660.5h2.2M217,647.5h2.2M217,658.9h2.2M219.4,643.2h2.2M219.4,660.8h2.2M221.8,645.9h2.2M221.8,661.8h2.2M224.2,644.2h2.2M224.2,658.3h2.2M226.6,646.2h2.2M226.6,660.1h2.2M229,645.5h2.2M229,660h2.2M231.4,647.2h2.2M231.4,660.4h2.2M233.8,643.9h2.2M233.8,659.7h2.2M236.2,646.5h2.2M236.2,659.6h2.2M238.6,645.7h2.2M238.6,659.9h2.2M241,644.9h2.2M241,659.6h2.2M243.4,643.3h2.2M243.4,659.8h2.2M245.8,642.8h2.2M245.8,659.9h2.2M248.2,643.9h2.2M248.2,658.6h2.2" stroke="#000" stroke-width="1.2" fill="none"/>
<polyline points="59.7,684.8 60.9,682.8 62.1,681.1 63.3,679.4 64.5,678 65.7,678.4 66.9,679.3 68.1,678.4 69.3,676.7 70.5,676.5 71.7,676 72.9,674.7 74.1,673.3 75.3,675.2 76.5,674.6 77.7,675.2 78.9,674.2 80.1,671.6 81.3,671.7 82.5,671.1 83.7,671 84.9,671.5 86.1,672.7 87.3,671.2 88.5,670.1 89.7,670.9 90.9,670.6 92.1,668.6 93.3,670.1 94.5,670.3 95.7,669.7 96.9,668 98.1,667.5 99.3,668.7 100.5,667.7 101.7,668.3 102.9,668.2 104.1,666.7 105.3,669 106.5,667.5 107.7,667 108.9,667 110.1,665.5 111.3,666.8 112.5,667.3 113.7,666 114.9,667.2 116.1,665.2 117.3,664.9 118.5,666.9 119.7,663.8 120.9,664.6 122.1,663.9 123.3,663.1 124.5,661.7 125.7,663.3 126.9,663.7 128.1,662.9 129.3,663.5 130.5,662.8 131.7,664 132.9,661.6 134.1,661.9 135.3,662.4 136.5,662.1 137.7,661.2 138.9,662.4 140.1,663.1 141.3,661.9 142.5,661.4 143.7,660.5 144.9,662.3 146.1,661.5 147.3,661.3 148.5,660.9 149.7,660.9 150.9,660.2 152.1,661.1 153.3,661.4 154.5,658.5 155.7,661 156.9,658.8 158.1,658.6 159.3,660.2 160.5,659.9 161.7,659.1 162.9,658.3 164.1,659.7 165.3,657.9 166.5,658.5 167.7,658.1 168.9,659 170.1,657.7 171.3,657.4 172.5,660.1 173.7,657.6 174.9,656.3 176.1,658 177.3,654.5 178.5,656.3 179.7,656.3 180.9,656.7 182.1,658.5 183.3,656.1 184.5,657 185.7,656.8 186.9,654 188.1,655.9 189.3,655.7 190.5,655.7 191.7,652.7 192.9,653.9 194.1,654.8 195.3,654.1 196.5,653.9 197.7,653.3 198.9,653.9 200.1,654.9 201.3,653.1 202.5,654.2 203.7,654.5 204.9,653.8 206.1,653.8 207.3,653 208.5,653.2 209.7,653.8 210.9,653.6 212.1,653.2 213.3,651.9 214.5,653.6 215.7,651.4 216.9,652.3 218.1,653.2 219.3,652 220.5,652 221.7,651.7 222.9,653.9 224.1,652.2 225.3,651.3 226.5,653 227.7,653.1 228.9,654.3 230.1,652.7 231.3,652.3 232.5,653.8 233.7,652.6 234.9,651.8 236.1,652.6 237.3,653 238.5,652.4 239.7,652.8 240.9,650.3 242.1,652.3 243.3,651.9 244.5,651.6 245.7,651.8 246.9,651.3 248.1,651.9 249.3,651.3 250.5,650.8" fill="none" stroke="#000" stroke-width="2.0" stroke-linejoin="round" />
<path d="M59.2,611.2 L60.4,563.4 L61.6,540.2 L62.8,539.4 L64,547.9 L65.2,543.6 L66.4,540.8 L67.6,545.5 L68.8,539.7 L70,541.9 L71.2,546.8 L72.4,548.5 L73.6,543.5 L74.8,548.6 L76,551.4 L77.2,547.5 L78.4,559.3 L79.6,558.4 L80.8,558.2 L82,563.8 L83.2,560.4 L84.4,563.8 L85.6,566.1 L86.8,569.6 L88,566.1 L89.2,571.8 L90.4,570.4 L91.6,577.1 L92.8,575 L94,578.1 L95.2,577.6 L96.4,578 L97.6,583.8 L98.8,581.8 L100,583.6 L101.2,582.4 L102.4,586.9 L103.6,584.4 L104.8,591 L106,589.8 L107.2,586.2 L108.4,590.7 L109.6,591.2 L110.8,593.1 L112,595.8 L113.2,591 L114.4,594 L115.6,597.9 L116.8,597.3 L118,595.5 L119.2,594.8 L120.4,601.7 L121.6,598.4 L122.8,598.9 L124,595.8 L125.2,597 L126.4,602.5 L127.6,601.4 L128.8,608.2 L130,605.8 L131.2,600.8 L132.4,607.3 L133.6,605.6 L134.8,606.1 L136,606.1 L137.2,609.9 L138.4,611.6 L139.6,610.8 L140.8,609.4 L142,612.4 L143.2,610 L144.4,609.5 L145.6,612.7 L146.8,610.9 L148,608.5 L149.2,612.1 L150.4,614.3 L151.6,615.4 L152.8,613.9 L154,611.7 L155.2,613.6 L156.4,612.6 L157.6,617.9 L158.8,618.9 L160,615.4 L161.2,614 L162.4,618 L163.6,617.4 L164.8,616.4 L166,618.3 L167.2,618 L168.4,621.2 L169.6,619.5 L170.8,618.2 L172,620.8 L173.2,617.5 L174.4,615 L175.6,620.5 L176.8,625.6 L178,618.8 L179.2,617.6 L180.4,620.9 L181.6,621.8 L182.8,623.2 L184,625.1 L185.2,624.8 L186.4,623 L187.6,622.2 L188.8,623.1 L190,628.1 L191.2,625.4 L192.4,621.3 L193.6,623.5 L194.8,623.3 L196,622.7 L197.2,626.6 L198.4,626.9 L199.6,628.5 L200.8,627.1 L202,622.6 L203.2,623 L204.4,633.6 L205.6,628.7 L206.8,628.1 L208,629.7 L209.2,626.8 L210.4,630.4 L211.6,628.9 L212.8,630.2 L214,629.9 L215.2,628.3 L216.4,631.8 L217.6,631.6 L218.8,626.3 L220,630.8 L221.2,629.1 L222.4,629.5 L223.6,631.6 L224.8,632.2 L226,631.7 L227.2,632.2 L228.4,627.1 L229.6,631.9 L230.8,633.8 L232,630 L233.2,633.7 L234.4,632.9 L235.6,634.2 L236.8,637.7 L238,634.2 L239.2,633.1 L240.4,638.8 L241.6,633.4 L242.8,633.7 L244,631.9 L245.2,636.4 L246.4,633.9 L247.6,633.2 L248.8,636.1 L250,639.5 L250,650.2 L248.8,647.8 L247.6,649.9 L246.4,645 L245.2,653.2 L244,649.1 L242.8,646.1 L241.6,648.2 L240.4,650.1 L239.2,647.9 L238,646.2 L236.8,651.5 L235.6,647.7 L234.4,644.8 L233.2,646.7 L232,646.6 L230.8,649.1 L229.6,643.6 L228.4,644.9 L227.2,644.1 L226,645.5 L224.8,647 L223.6,648.3 L222.4,644.9 L221.2,644.1 L220,645 L218.8,643.9 L217.6,645 L216.4,646.7 L215.2,648.5 L214,647.6 L212.8,645.4 L211.6,649.5 L210.4,644 L209.2,647.6 L208,645.2 L206.8,642.4 L205.6,645.4 L204.4,646.9 L203.2,645.3 L202,641.7 L200.8,644.3 L199.6,648.7 L198.4,647.4 L197.2,647.8 L196,642.9 L194.8,644.6 L193.6,642.8 L192.4,645.4 L191.2,646.4 L190,645.4 L188.8,642.7 L187.6,644.5 L186.4,640.8 L185.2,642.5 L184,644.8 L182.8,643.5 L181.6,644.4 L180.4,641.7 L179.2,641.8 L178,635.9 L176.8,643.1 L175.6,640.9 L174.4,642.6 L173.2,640.6 L172,643.8 L170.8,646.4 L169.6,645.3 L168.4,639.8 L167.2,646.7 L166,639.6 L164.8,645.1 L163.6,635.9 L162.4,640.1 L161.2,641.1 L160,636.1 L158.8,643.3 L157.6,636.8 L156.4,642.7 L155.2,641.8 L154,640.2 L152.8,638.2 L151.6,637.9 L150.4,640.6 L149.2,633.6 L148,636.6 L146.8,636.1 L145.6,632.3 L144.4,630.3 L143.2,640.2 L142,634.3 L140.8,635.1 L139.6,636.3 L138.4,630 L137.2,628 L136,632.9 L134.8,627.3 L133.6,632.8 L132.4,631.3 L131.2,627.8 L130,625 L128.8,625.3 L127.6,628.6 L126.4,621.7 L125.2,624 L124,621.7 L122.8,616.7 L121.6,618.7 L120.4,618 L119.2,619.1 L118,619.3 L116.8,613.4 L115.6,615.6 L114.4,612.8 L113.2,611.8 L112,620 L110.8,617.3 L109.6,615.1 L108.4,609.6 L107.2,609.4 L106,606.3 L104.8,609.9 L103.6,610.1 L102.4,606.7 L101.2,605.4 L100,606.1 L98.8,606.7 L97.6,606.8 L96.4,606.3 L95.2,603.3 L94,600.4 L92.8,604.9 L91.6,599.9 L90.4,594.1 L89.2,593.4 L88,596.1 L86.8,598.7 L85.6,593.7 L84.4,596.1 L83.2,594.3 L82,588 L80.8,591.7 L79.6,586.9 L78.4,586.2 L77.2,583.3 L76,575.7 L74.8,576.8 L73.6,580.9 L72.4,576.6 L71.2,570.7 L70,577 L68.8,579.2 L67.6,573.2 L66.4,577.8 L65.2,574.1 L64,572.6 L62.8,572.8 L61.6,578.8 L60.4,596.9 L59.2,647.6Z" fill="#7272c8" stroke="none"/>
<path d="M59.2,611.2V647.6M62.8,539.4V572.8M66.4,540.8V577.8M70,541.9V577M73.6,543.5V580.9M77.2,547.5V583.3M80.8,558.2V591.7M84.4,563.8V596.1M88,566.1V596.1M91.6,577.1V599.9M95.2,577.6V603.3M98.8,581.8V606.7M102.4,586.9V606.7M106,589.8V606.3M109.6,591.2V615.1M113.2,591V611.8M116.8,597.3V613.4M120.4,601.7V618M124,595.8V621.7M127.6,601.4V628.6M131.2,600.8V627.8M134.8,606.1V627.3M138.4,611.6V630M142,612.4V634.3M145.6,612.7V632.3M149.2,612.1V633.6M152.8,613.9V638.2M156.4,612.6V642.7M160,615.4V636.1M163.6,617.4V635.9M167.2,618V646.7M170.8,618.2V646.4M174.4,615V642.6M178,618.8V635.9M181.6,621.8V644.4M185.2,624.8V642.5M188.8,623.1V642.7M192.4,621.3V645.4M196,622.7V642.9M199.6,628.5V648.7M203.2,623V645.3M206.8,628.1V642.4M210.4,630.4V644M214,629.9V647.6M217.6,631.6V645M221.2,629.1V644.1M224.8,632.2V647M228.4,627.1V644.9M232,630V646.6M235.6,634.2V647.7M239.2,633.1V647.9M242.8,633.7V646.1M246.4,633.9V645M250,639.5V650.2" stroke="#3a3aa0" stroke-width="0.6" fill="none"/>
<path d="M58.1,611.2h2.2M58.1,647.6h2.2M60.5,540.2h2.2M60.5,578.8h2.2M62.9,547.9h2.2M62.9,572.6h2.2M65.3,540.8h2.2M65.3,577.8h2.2M67.7,539.7h2.2M67.7,579.2h2.2M70.1,546.8h2.2M70.1,570.7h2.2M72.5,543.5h2.2M72.5,580.9h2.2M74.9,551.4h2.2M74.9,575.7h2.2M77.3,559.3h2.2M77.3,586.2h2.2M79.7,558.2h2.2M79.7,591.7h2.2M82.1,560.4h2.2M82.1,594.3h2.2M84.5,566.1h2.2M84.5,593.7h2.2M86.9,566.1h2.2M86.9,596.1h2.2M89.3,570.4h2.2M89.3,594.1h2.2M91.7,575h2.2M91.7,604.9h2.2M94.1,577.6h2.2M94.1,603.3h2.2M96.5,583.8h2.2M96.5,606.8h2.2M98.9,583.6h2.2M98.9,606.1h2.2M101.3,586.9h2.2M101.3,606.7h2.2M103.7,591h2.2M103.7,609.9h2.2M106.1,586.2h2.2M106.1,609.4h2.2M108.5,591.2h2.2M108.5,615.1h2.2M110.9,595.8h2.2M110.9,620h2.2M113.3,594h2.2M113.3,612.8h2.2M115.7,597.3h2.2M115.7,613.4h2.2M118.1,594.8h2.2M118.1,619.1h2.2M120.5,598.4h2.2M120.5,618.7h2.2M122.9,595.8h2.2M122.9,621.7h2.2M125.3,602.5h2.2M125.3,621.7h2.2M127.7,608.2h2.2M127.7,625.3h2.2M130.1,600.8h2.2M130.1,627.8h2.2M132.5,605.6h2.2M132.5,632.8h2.2M134.9,606.1h2.2M134.9,632.9h2.2M137.3,611.6h2.2M137.3,630h2.2M139.7,609.4h2.2M139.7,635.1h2.2M142.1,610h2.2M142.1,640.2h2.2M144.5,612.7h2.2M144.5,632.3h2.2M146.9,608.5h2.2M146.9,636.6h2.2M149.3,614.3h2.2M149.3,640.6h2.2M151.7,613.9h2.2M151.7,638.2h2.2M154.1,613.6h2.2M154.1,641.8h2.2M156.5,617.9h2.2M156.5,636.8h2.2M158.9,615.4h2.2M158.9,636.1h2.2M161.3,618h2.2M161.3,640.1h2.2M163.7,616.4h2.2M163.7,645.1h2.2M166.1,618h2.2M166.1,646.7h2.2M168.5,619.5h2.2M168.5,645.3h2.2M170.9,620.8h2.2M170.9,643.8h2.2M173.3,615h2.2M173.3,642.6h2.2M175.7,625.6h2.2M175.7,643.1h2.2M178.1,617.6h2.2M178.1,641.8h2.2M180.5,621.8h2.2M180.5,644.4h2.2M182.9,625.1h2.2M182.9,644.8h2.2M185.3,623h2.2M185.3,640.8h2.2M187.7,623.1h2.2M187.7,642.7h2.2M190.1,625.4h2.2M190.1,646.4h2.2M192.5,623.5h2.2M192.5,642.8h2.2M194.9,622.7h2.2M194.9,642.9h2.2M197.3,626.9h2.2M197.3,647.4h2.2M199.7,627.1h2.2M199.7,644.3h2.2M202.1,623h2.2M202.1,645.3h2.2M204.5,628.7h2.2M204.5,645.4h2.2M206.9,629.7h2.2M206.9,645.2h2.2M209.3,630.4h2.2M209.3,644h2.2M211.7,630.2h2.2M211.7,645.4h2.2M214.1,628.3h2.2M214.1,648.5h2.2M216.5,631.6h2.2M216.5,645h2.2M218.9,630.8h2.2M218.9,645h2.2M221.3,629.5h2.2M221.3,644.9h2.2M223.7,632.2h2.2M223.7,647h2.2M226.1,632.2h2.2M226.1,644.1h2.2M228.5,631.9h2.2M228.5,643.6h2.2M230.9,630h2.2M230.9,646.6h2.2M233.3,632.9h2.2M233.3,644.8h2.2M235.7,637.7h2.2M235.7,651.5h2.2M238.1,633.1h2.2M238.1,647.9h2.2M240.5,633.4h2.2M240.5,648.2h2.2M242.9,631.9h2.2M242.9,649.1h2.2M245.3,633.9h2.2M245.3,645h2.2M247.7,636.1h2.2M247.7,647.8h2.2" stroke="#14147a" stroke-width="1.1" fill="none"/>
<polyline points="59.2,629.4 60.4,580.2 61.6,559.5 62.8,556.1 64,560.2 65.2,558.9 66.4,559.3 67.6,559.4 68.8,559.5 70,559.5 71.2,558.8 72.4,562.6 73.6,562.2 74.8,562.7 76,563.6 77.2,565.4 78.4,572.7 79.6,572.7 80.8,574.9 82,575.9 83.2,577.3 84.4,579.9 85.6,579.9 86.8,584.1 88,581.1 89.2,582.6 90.4,582.2 91.6,588.5 92.8,589.9 94,589.3 95.2,590.5 96.4,592.2 97.6,595.3 98.8,594.2 100,594.8 101.2,593.9 102.4,596.8 103.6,597.2 104.8,600.5 106,598 107.2,597.8 108.4,600.1 109.6,603.2 110.8,605.2 112,607.9 113.2,601.4 114.4,603.4 115.6,606.8 116.8,605.3 118,607.4 119.2,607 120.4,609.8 121.6,608.5 122.8,607.8 124,608.8 125.2,610.5 126.4,612.1 127.6,615 128.8,616.7 130,615.4 131.2,614.3 132.4,619.3 133.6,619.2 134.8,616.7 136,619.5 137.2,619 138.4,620.8 139.6,623.6 140.8,622.2 142,623.4 143.2,625.1 144.4,619.9 145.6,622.5 146.8,623.5 148,622.5 149.2,622.8 150.4,627.5 151.6,626.7 152.8,626 154,626 155.2,627.7 156.4,627.7 157.6,627.3 158.8,631.1 160,625.7 161.2,627.6 162.4,629 163.6,626.6 164.8,630.7 166,628.9 167.2,632.4 168.4,630.5 169.6,632.4 170.8,632.3 172,632.3 173.2,629.1 174.4,628.8 175.6,630.7 176.8,634.4 178,627.4 179.2,629.7 180.4,631.3 181.6,633.1 182.8,633.3 184,635 185.2,633.7 186.4,631.9 187.6,633.3 188.8,632.9 190,636.8 191.2,635.9 192.4,633.3 193.6,633.1 194.8,634 196,632.8 197.2,637.2 198.4,637.1 199.6,638.6 200.8,635.7 202,632.2 203.2,634.1 204.4,640.2 205.6,637 206.8,635.3 208,637.5 209.2,637.2 210.4,637.2 211.6,639.2 212.8,637.8 214,638.8 215.2,638.4 216.4,639.3 217.6,638.3 218.8,635.1 220,637.9 221.2,636.6 222.4,637.2 223.6,639.9 224.8,639.6 226,638.6 227.2,638.2 228.4,636 229.6,637.7 230.8,641.5 232,638.3 233.2,640.2 234.4,638.8 235.6,641 236.8,644.6 238,640.2 239.2,640.5 240.4,644.4 241.6,640.8 242.8,639.9 244,640.5 245.2,644.8 246.4,639.5 247.6,641.6 248.8,641.9 250,644.9" fill="none" stroke="#0c0c80" stroke-width="2.6" stroke-linejoin="round" />
<path d="M58.5,667.7 L59.7,664 L60.9,655.1 L62.1,649.4 L63.3,643.8 L64.5,640.6 L65.7,638.6 L66.9,637.5 L68.1,638.5 L69.3,636.7 L70.5,634.5 L71.7,635.4 L72.9,632.1 L74.1,633.1 L75.3,633.6 L76.5,632.6 L77.7,631.9 L78.9,629.5 L80.1,630 L81.3,629.1 L82.5,628 L83.7,628.1 L84.9,625.1 L86.1,624.5 L87.3,625.4 L88.5,623.3 L89.7,623.3 L90.9,624.3 L92.1,620.6 L93.3,622.9 L94.5,622.1 L95.7,619.1 L96.9,618.2 L98.1,615.7 L99.3,615 L100.5,615.2 L101.7,614.8 L102.9,616.3 L104.1,613.4 L105.3,614.9 L106.5,613 L107.7,612.7 L108.9,610.2 L110.1,613 L111.3,611.1 L112.5,609.4 L113.7,608.7 L114.9,608.2 L116.1,609.3 L117.3,605.7 L118.5,608 L119.7,607.9 L120.9,608.2 L122.1,607.6 L123.3,606.2 L124.5,606.7 L125.7,605 L126.9,604.3 L128.1,603.6 L129.3,606.2 L130.5,606 L131.7,604.2 L132.9,604.2 L134.1,604.2 L135.3,605.1 L136.5,600.7 L137.7,602.8 L138.9,600.9 L140.1,602 L141.3,601.6 L142.5,602 L143.7,602.6 L144.9,602.9 L146.1,598.3 L147.3,599.7 L148.5,601.5 L149.7,601.9 L150.9,601.6 L152.1,601.8 L153.3,598.4 L154.5,602.2 L155.7,599.4 L156.9,601.3 L158.1,600 L159.3,600.3 L160.5,599 L161.7,600.3 L162.9,599.9 L164.1,598.5 L165.3,600.9 L166.5,599.2 L167.7,599 L168.9,600.4 L170.1,597.6 L171.3,598.1 L172.5,597.8 L173.7,598.2 L174.9,598.2 L176.1,596.6 L177.3,597.1 L178.5,598.2 L179.7,598 L180.9,600.1 L182.1,597.7 L183.3,597.8 L184.5,600.2 L185.7,597.4 L186.9,598.9 L188.1,599 L189.3,598 L190.5,598.1 L191.7,598.9 L192.9,598.9 L194.1,599.8 L195.3,596.4 L196.5,598.9 L197.7,599.1 L198.9,600.4 L200.1,598.4 L201.3,600.6 L202.5,598.9 L203.7,598.1 L204.9,597.7 L206.1,599.9 L207.3,598.8 L208.5,597.5 L209.7,596.4 L210.9,599.1 L212.1,598.5 L213.3,597.8 L214.5,596.6 L215.7,599.1 L216.9,597.6 L218.1,599.7 L219.3,595.8 L220.5,597.1 L221.7,598.7 L222.9,600 L224.1,597.8 L225.3,597.9 L226.5,599.2 L227.7,597.9 L228.9,597.2 L230.1,596.2 L231.3,597.5 L232.5,599.6 L233.7,599.7 L234.9,595.7 L236.1,598.1 L237.3,597.9 L238.5,596.6 L239.7,597.3 L240.9,596.5 L242.1,596.7 L243.3,596.6 L244.5,596.7 L245.7,596.8 L246.9,597 L248.1,595.7 L249.3,598.5 L250.5,597.8 L250.5,607.4 L249.3,608.2 L248.1,607.1 L246.9,604.4 L245.7,604.2 L244.5,608 L243.3,607.8 L242.1,607.9 L240.9,606.6 L239.7,606.9 L238.5,607.1 L237.3,606.2 L236.1,608.6 L234.9,604.1 L233.7,607.7 L232.5,607.4 L231.3,606.9 L230.1,606 L228.9,605.6 L227.7,606.9 L226.5,606.4 L225.3,607.2 L224.1,607.4 L222.9,607.6 L221.7,606.8 L220.5,607.4 L219.3,607.2 L218.1,606.9 L216.9,606.3 L215.7,606.3 L214.5,605.6 L213.3,608.8 L212.1,608.2 L210.9,608.4 L209.7,607.8 L208.5,605.2 L207.3,607.7 L206.1,607.9 L204.9,606.6 L203.7,607 L202.5,607.2 L201.3,608.3 L200.1,607.8 L198.9,609 L197.7,606.1 L196.5,607.5 L195.3,604 L194.1,610.6 L192.9,607.2 L191.7,608.7 L190.5,606.7 L189.3,607.3 L188.1,608.7 L186.9,606.7 L185.7,608.3 L184.5,608.5 L183.3,607.4 L182.1,608.1 L180.9,609.4 L179.7,608.2 L178.5,605.7 L177.3,604.9 L176.1,607.7 L174.9,608.1 L173.7,609.2 L172.5,607.8 L171.3,606.8 L170.1,608.3 L168.9,607.9 L167.7,609.5 L166.5,606.3 L165.3,608.8 L164.1,609.2 L162.9,608.7 L161.7,609.6 L160.5,606.4 L159.3,609.4 L158.1,607.9 L156.9,608.5 L155.7,608.7 L154.5,611 L153.3,607.1 L152.1,610.1 L150.9,609.9 L149.7,610.1 L148.5,611.3 L147.3,610 L146.1,609.2 L144.9,610.1 L143.7,611.7 L142.5,611.2 L141.3,610.5 L140.1,611.8 L138.9,609.7 L137.7,610.3 L136.5,611.4 L135.3,612.3 L134.1,610.9 L132.9,613.9 L131.7,613.3 L130.5,613.6 L129.3,613.1 L128.1,614.4 L126.9,613.4 L125.7,613.1 L124.5,616.7 L123.3,615.1 L122.1,615.9 L120.9,615.9 L119.7,617.9 L118.5,617.4 L117.3,616.1 L116.1,619.1 L114.9,616.6 L113.7,618.9 L112.5,619.2 L111.3,619.7 L110.1,619.7 L108.9,617.5 L107.7,619.8 L106.5,621.2 L105.3,622.6 L104.1,623.6 L102.9,626.4 L101.7,623.2 L100.5,625.3 L99.3,623.9 L98.1,623.5 L96.9,624.4 L95.7,628.8 L94.5,630.2 L93.3,629.6 L92.1,629.7 L90.9,630.5 L89.7,630.1 L88.5,630.3 L87.3,632.2 L86.1,633.3 L84.9,633 L83.7,634.1 L82.5,634 L81.3,635.8 L80.1,636.2 L78.9,636.7 L77.7,639.4 L76.5,638.3 L75.3,640.1 L74.1,639.8 L72.9,640.2 L71.7,642.8 L70.5,642.1 L69.3,642.2 L68.1,644.9 L66.9,644.1 L65.7,646.1 L64.5,647.2 L63.3,649.5 L62.1,654.5 L60.9,661 L59.7,668.2 L58.5,673.8Z" fill="#2f7f2f" stroke="none"/>
<path d="M57.4,667.7h2.2M57.4,673.8h2.2M59.8,655.1h2.2M59.8,661h2.2M62.2,643.8h2.2M62.2,649.5h2.2M64.6,638.6h2.2M64.6,646.1h2.2M67,638.5h2.2M67,644.9h2.2M69.4,634.5h2.2M69.4,642.1h2.2M71.8,632.1h2.2M71.8,640.2h2.2M74.2,633.6h2.2M74.2,640.1h2.2M76.6,631.9h2.2M76.6,639.4h2.2M79,630h2.2M79,636.2h2.2M81.4,628h2.2M81.4,634h2.2M83.8,625.1h2.2M83.8,633h2.2M86.2,625.4h2.2M86.2,632.2h2.2M88.6,623.3h2.2M88.6,630.1h2.2M91,620.6h2.2M91,629.7h2.2M93.4,622.1h2.2M93.4,630.2h2.2M95.8,618.2h2.2M95.8,624.4h2.2M98.2,615h2.2M98.2,623.9h2.2M100.6,614.8h2.2M100.6,623.2h2.2M103,613.4h2.2M103,623.6h2.2M105.4,613h2.2M105.4,621.2h2.2M107.8,610.2h2.2M107.8,617.5h2.2M110.2,611.1h2.2M110.2,619.7h2.2M112.6,608.7h2.2M112.6,618.9h2.2M115,609.3h2.2M115,619.1h2.2M117.4,608h2.2M117.4,617.4h2.2M119.8,608.2h2.2M119.8,615.9h2.2M122.2,606.2h2.2M122.2,615.1h2.2M124.6,605h2.2M124.6,613.1h2.2M127,603.6h2.2M127,614.4h2.2M129.4,606h2.2M129.4,613.6h2.2M131.8,604.2h2.2M131.8,613.9h2.2M134.2,605.1h2.2M134.2,612.3h2.2M136.6,602.8h2.2M136.6,610.3h2.2M139,602h2.2M139,611.8h2.2M141.4,602h2.2M141.4,611.2h2.2M143.8,602.9h2.2M143.8,610.1h2.2M146.2,599.7h2.2M146.2,610h2.2M148.6,601.9h2.2M148.6,610.1h2.2M151,601.8h2.2M151,610.1h2.2M153.4,602.2h2.2M153.4,611h2.2M155.8,601.3h2.2M155.8,608.5h2.2M158.2,600.3h2.2M158.2,609.4h2.2M160.6,600.3h2.2M160.6,609.6h2.2M163,598.5h2.2M163,609.2h2.2M165.4,599.2h2.2M165.4,606.3h2.2M167.8,600.4h2.2M167.8,607.9h2.2M170.2,598.1h2.2M170.2,606.8h2.2M172.6,598.2h2.2M172.6,609.2h2.2M175,596.6h2.2M175,607.7h2.2M177.4,598.2h2.2M177.4,605.7h2.2M179.8,600.1h2.2M179.8,609.4h2.2M182.2,597.8h2.2M182.2,607.4h2.2M184.6,597.4h2.2M184.6,608.3h2.2M187,599h2.2M187,608.7h2.2M189.4,598.1h2.2M189.4,606.7h2.2M191.8,598.9h2.2M191.8,607.2h2.2M194.2,596.4h2.2M194.2,604h2.2M196.6,599.1h2.2M196.6,606.1h2.2M199,598.4h2.2M199,607.8h2.2M201.4,598.9h2.2M201.4,607.2h2.2M203.8,597.7h2.2M203.8,606.6h2.2M206.2,598.8h2.2M206.2,607.7h2.2M208.6,596.4h2.2M208.6,607.8h2.2M211,598.5h2.2M211,608.2h2.2M213.4,596.6h2.2M213.4,605.6h2.2M215.8,597.6h2.2M215.8,606.3h2.2M218.2,595.8h2.2M218.2,607.2h2.2M220.6,598.7h2.2M220.6,606.8h2.2M223,597.8h2.2M223,607.4h2.2M225.4,599.2h2.2M225.4,606.4h2.2M227.8,597.2h2.2M227.8,605.6h2.2M230.2,597.5h2.2M230.2,606.9h2.2M232.6,599.7h2.2M232.6,607.7h2.2M235,598.1h2.2M235,608.6h2.2M237.4,596.6h2.2M237.4,607.1h2.2M239.8,596.5h2.2M239.8,606.6h2.2M242.2,596.6h2.2M242.2,607.8h2.2M244.6,596.8h2.2M244.6,604.2h2.2M247,595.7h2.2M247,607.1h2.2M249.4,597.8h2.2M249.4,607.4h2.2" stroke="#0a4a0a" stroke-width="1.1" fill="none"/>
<polyline points="58.5,670.7 59.7,666.1 60.9,658 62.1,651.9 63.3,646.6 64.5,643.9 65.7,642.3 66.9,640.8 68.1,641.7 69.3,639.5 70.5,638.3 71.7,639.1 72.9,636.1 74.1,636.4 75.3,636.8 76.5,635.5 77.7,635.6 78.9,633.1 80.1,633.1 81.3,632.4 82.5,631 83.7,631.1 84.9,629 86.1,628.9 87.3,628.8 88.5,626.8 89.7,626.7 90.9,627.4 92.1,625.1 93.3,626.2 94.5,626.1 95.7,623.9 96.9,621.3 98.1,619.6 99.3,619.4 100.5,620.2 101.7,619 102.9,621.3 104.1,618.5 105.3,618.8 106.5,617.1 107.7,616.3 108.9,613.8 110.1,616.4 111.3,615.4 112.5,614.3 113.7,613.8 114.9,612.4 116.1,614.2 117.3,610.9 118.5,612.7 119.7,612.9 120.9,612 122.1,611.7 123.3,610.7 124.5,611.7 125.7,609 126.9,608.9 128.1,609 129.3,609.6 130.5,609.8 131.7,608.7 132.9,609 134.1,607.5 135.3,608.7 136.5,606 137.7,606.6 138.9,605.3 140.1,606.9 141.3,606.1 142.5,606.6 143.7,607.1 144.9,606.5 146.1,603.8 147.3,604.9 148.5,606.4 149.7,606 150.9,605.8 152.1,606 153.3,602.7 154.5,606.6 155.7,604 156.9,604.9 158.1,604 159.3,604.8 160.5,602.7 161.7,605 162.9,604.3 164.1,603.8 165.3,604.8 166.5,602.8 167.7,604.2 168.9,604.1 170.1,603 171.3,602.4 172.5,602.8 173.7,603.7 174.9,603.2 176.1,602.2 177.3,601 178.5,601.9 179.7,603.1 180.9,604.7 182.1,602.9 183.3,602.6 184.5,604.4 185.7,602.8 186.9,602.8 188.1,603.8 189.3,602.7 190.5,602.4 191.7,603.8 192.9,603.1 194.1,605.2 195.3,600.2 196.5,603.2 197.7,602.6 198.9,604.7 200.1,603.1 201.3,604.4 202.5,603.1 203.7,602.6 204.9,602.2 206.1,603.9 207.3,603.3 208.5,601.3 209.7,602.1 210.9,603.8 212.1,603.3 213.3,603.3 214.5,601.1 215.7,602.7 216.9,602 218.1,603.3 219.3,601.5 220.5,602.2 221.7,602.8 222.9,603.8 224.1,602.6 225.3,602.5 226.5,602.8 227.7,602.4 228.9,601.4 230.1,601.1 231.3,602.2 232.5,603.5 233.7,603.7 234.9,599.9 236.1,603.3 237.3,602 238.5,601.9 239.7,602.1 240.9,601.5 242.1,602.3 243.3,602.2 244.5,602.3 245.7,600.5 246.9,600.7 248.1,601.4 249.3,603.3 250.5,602.6" fill="none" stroke="#0a6a0a" stroke-width="1.8" stroke-linejoin="round" />
<polyline points="58.5,683.4 59.7,675.1 60.9,675.7 62.1,675.6 63.3,678.1 64.5,678.2 65.7,678.4 66.9,679 68.1,679.5 69.3,679.4 70.5,680.4 71.7,681.8 72.9,682.9 74.1,681.8 75.3,681.4 76.5,681.5 77.7,683.1 78.9,682.7 80.1,682.3 81.3,682.8 82.5,682.9 83.7,681 84.9,680.4 86.1,680.4 87.3,680.8 88.5,681.6 89.7,682 90.9,681.6 92.1,682.4 93.3,682.5 94.5,681.2 95.7,682.6 96.9,683 98.1,681.5 99.3,681.6 100.5,681.9 101.7,682.7 102.9,683.6 104.1,682.4 105.3,684.3 106.5,683.4 107.7,683.5 108.9,683.2 110.1,684.5 111.3,683.2 112.5,682.6 113.7,682.5 114.9,682.3 116.1,683.5 117.3,683.1 118.5,682.7 119.7,682.8 120.9,685 122.1,684.3 123.3,683.7 124.5,684.2 125.7,683.7 126.9,682.5 128.1,682.8 129.3,682 130.5,682.8 131.7,683.4 132.9,683.1 134.1,683.7 135.3,684.7 136.5,683.8 137.7,683.6 138.9,683 140.1,683.7 141.3,683.8 142.5,683.2 143.7,683.6 144.9,683.6 146.1,683.3 147.3,683.8 148.5,683.5 149.7,684.5 150.9,683.7 152.1,681.7 153.3,681.9 154.5,682.8 155.7,684.2 156.9,684.7 158.1,684.4 159.3,684.6 160.5,683.8 161.7,683.6 162.9,683 164.1,683.4 165.3,682.9 166.5,682.2 167.7,683.4 168.9,683.5 170.1,683.6 171.3,683.7 172.5,682.8 173.7,683.4 174.9,684.1 176.1,684.8 177.3,685.4 178.5,684.8 179.7,683.7 180.9,683.7 182.1,684.2 183.3,684.1 184.5,684.6 185.7,683.5 186.9,683.5 188.1,682.6 189.3,682.6 190.5,682.6 191.7,683.7 192.9,683.4 194.1,683.8 195.3,684.2 196.5,683.9 197.7,682.8 198.9,682.8 200.1,681.9 201.3,682.2 202.5,683.8 203.7,684.2 204.9,682.7 206.1,682.8 207.3,683.1 208.5,683.7 209.7,683.6 210.9,683.4 212.1,683.9 213.3,683.9 214.5,683.7 215.7,684.5 216.9,684.4 218.1,684.6 219.3,684.7 220.5,685 221.7,684.9 222.9,685 224.1,683.3 225.3,683.6 226.5,683.4 227.7,684.1 228.9,683.9 230.1,683.6 231.3,682.6 232.5,681.9 233.7,682.9 234.9,682 236.1,682.7 237.3,682.3 238.5,682.9 239.7,682.8 240.9,683.2 242.1,684.4 243.3,683.7 244.5,683.9 245.7,684 246.9,683.7 248.1,683.4 249.3,681.8 250.5,683.3" fill="none" stroke="#e41c1c" stroke-width="2.4" stroke-linejoin="round" />
<polyline points="58.5,688.9 59.7,688.1 60.9,688 62.1,688.3 63.3,687.9 64.5,688.5 65.7,687.5 66.9,687.5 68.1,687.8 69.3,687.7 70.5,688.4 71.7,688.1 72.9,687.7 74.1,687.5 75.3,687.6 76.5,688.3 77.7,688.1 78.9,688.7 80.1,688.4 81.3,688.5 82.5,688.7 83.7,688.2 84.9,687.4 86.1,687.1 87.3,687.6 88.5,688 89.7,688.4 90.9,688.5 92.1,688.3 93.3,688.1 94.5,688.3 95.7,688.2 96.9,688.6 98.1,688.6 99.3,687.9 100.5,687.4 101.7,687.5 102.9,687.7 104.1,687.8 105.3,688.2 106.5,688.6 107.7,688.2 108.9,688.6 110.1,688.3 111.3,688.7 112.5,688.5 113.7,687.7 114.9,687.6 116.1,687.8 117.3,687.8 118.5,688.6 119.7,688 120.9,688.4 122.1,688.6 123.3,688.7 124.5,688.4 125.7,688.6 126.9,688.6 128.1,688.2 129.3,688.1 130.5,687.6 131.7,687.5 132.9,687.2 134.1,688 135.3,688 136.5,687.8 137.7,687.6 138.9,687.9 140.1,687.7 141.3,687.4 142.5,688 143.7,688.4 144.9,688.6 146.1,688.3 147.3,688.6 148.5,688.4 149.7,688.4 150.9,688.7 152.1,689.1 153.3,687.8 154.5,687.4 155.7,687.2 156.9,688.2 158.1,687.8 159.3,688 160.5,688.5 161.7,688.5 162.9,688.5 164.1,687.7 165.3,687.7 166.5,687.9 167.7,687.7 168.9,687.6 170.1,688.3 171.3,687.7 172.5,687.7 173.7,687.4 174.9,687 176.1,687.5 177.3,686.8 178.5,687.4 179.7,687.7 180.9,688.7 182.1,687.8 183.3,688 184.5,688.2 185.7,688.3 186.9,687.9 188.1,687.5 189.3,687.4 190.5,687.7 191.7,688.1 192.9,688.8 194.1,688.7 195.3,688.2 196.5,688.2 197.7,687.3 198.9,687.2 200.1,687.6 201.3,687.5 202.5,687.6 203.7,688 204.9,688.1 206.1,688.6 207.3,688.4 208.5,687.8 209.7,688 210.9,687.3 212.1,687.6 213.3,687.4 214.5,687.4 215.7,687.8 216.9,688.3 218.1,687.9 219.3,687.6 220.5,687.7 221.7,687.8 222.9,688.9 224.1,688.8 225.3,688 226.5,687.5 227.7,687.5 228.9,687.9 230.1,687.5 231.3,687.8 232.5,687.5 233.7,687 234.9,687.7 236.1,687.9 237.3,687.7 238.5,687.6 239.7,687.6 240.9,687.4 242.1,687.2 243.3,687.6 244.5,687.7 245.7,687.3 246.9,687.9 248.1,688.1 249.3,688.8 250.5,688.7" fill="none" stroke="#9a2ab8" stroke-width="2.6" stroke-linejoin="round" />
<line x1="58.5" y1="494" x2="58.5" y2="690.5" stroke="#2e2e2e" stroke-width="1.3" />
<line x1="55.3" y1="690.5" x2="58.5" y2="690.5" stroke="#2e2e2e" stroke-width="1.3" />
<text x="52" y="696.5" font-size="12.6" text-anchor="end" fill="#222" font-weight="normal" >0</text>
<line x1="55.3" y1="641.5" x2="58.5" y2="641.5" stroke="#2e2e2e" stroke-width="1.3" />
<text x="52" y="646" font-size="12.6" text-anchor="end" fill="#222" font-weight="normal" >100</text>
<line x1="55.3" y1="592.5" x2="58.5" y2="592.5" stroke="#2e2e2e" stroke-width="1.3" />
<text x="52" y="596.8" font-size="12.6" text-anchor="end" fill="#222" font-weight="normal" >200</text>
<line x1="55.3" y1="543.5" x2="58.5" y2="543.5" stroke="#2e2e2e" stroke-width="1.3" />
<text x="52" y="548.4" font-size="12.6" text-anchor="end" fill="#222" font-weight="normal" >300</text>
<line x1="55.3" y1="494.5" x2="58.5" y2="494.5" stroke="#2e2e2e" stroke-width="1.3" />
<text x="52" y="499.1" font-size="12.6" text-anchor="end" fill="#222" font-weight="normal" >400</text>
<line x1="58.5" y1="690.5" x2="250.5" y2="690.5" stroke="#2e2e2e" stroke-width="1.3" />
<line x1="58.5" y1="690.5" x2="58.5" y2="694" stroke="#2e2e2e" stroke-width="1.3" />
<text x="55.2" y="711.2" font-size="12.6" text-anchor="middle" fill="#222" font-weight="normal" >0</text>
<line x1="106.5" y1="690.5" x2="106.5" y2="694" stroke="#2e2e2e" stroke-width="1.3" />
<text x="105.4" y="711.2" font-size="12.6" text-anchor="middle" fill="#222" font-weight="normal" >10</text>
<line x1="154.5" y1="690.5" x2="154.5" y2="694" stroke="#2e2e2e" stroke-width="1.3" />
<text x="155" y="711.2" font-size="12.6" text-anchor="middle" fill="#222" font-weight="normal" >20</text>
<line x1="202.5" y1="690.5" x2="202.5" y2="694" stroke="#2e2e2e" stroke-width="1.3" />
<text x="204.6" y="711.2" font-size="12.6" text-anchor="middle" fill="#222" font-weight="normal" >30</text>
<line x1="250.5" y1="690.5" x2="250.5" y2="694" stroke="#2e2e2e" stroke-width="1.3" />
<text x="254.2" y="711.2" font-size="12.6" text-anchor="middle" fill="#222" font-weight="normal" >40</text>
<text x="160.9" y="729.6" font-size="12.6" text-anchor="middle" fill="#222" font-weight="normal" >Mins post re-injection</text>
<text transform="translate(10.9,594.3) rotate(-90)" font-size="12.6" text-anchor="middle" fill="#222">Organ radioactivity</text>
<text transform="translate(24.9,592.3) rotate(-90)" font-size="12.6" text-anchor="middle" fill="#222">(counts/MBq injected)</text>
<line x1="120.4" y1="495.8" x2="131.9" y2="495.8" stroke="#1a1a8a" stroke-width="2.8" />
<text x="139.5" y="500.2" font-size="12.6" text-anchor="start" fill="#3a3ab8" font-weight="normal" >Lungs</text>
<line x1="120.4" y1="511.1" x2="131.9" y2="511.1" stroke="#000" stroke-width="2.8" />
<text x="139.5" y="515.5" font-size="12.6" text-anchor="start" fill="#111" font-weight="normal" >Spleen</text>
<line x1="120.4" y1="526.4" x2="131.9" y2="526.4" stroke="#e02020" stroke-width="2.8" />
<text x="139.5" y="530.8" font-size="12.6" text-anchor="start" fill="#d83030" font-weight="normal" >Right ventricle</text>
<line x1="120.4" y1="541.7" x2="131.9" y2="541.7" stroke="#1a6a1a" stroke-width="2.8" />
<text x="139.5" y="546.1" font-size="12.6" text-anchor="start" fill="#2a7a4a" font-weight="normal" >Liver</text>
<line x1="120.4" y1="557" x2="131.9" y2="557" stroke="#a020b0" stroke-width="2.8" />
<text x="139.5" y="561.4" font-size="12.6" text-anchor="start" fill="#9a38c0" font-weight="normal" >Bone marrow</text>
<text x="311.6" y="471.5" font-size="17.5" text-anchor="start" fill="#111" font-weight="bold" >D</text>
<line x1="368.9" y1="495.6" x2="368.9" y2="691.9" stroke="#787878" stroke-width="1.7" />
<line x1="364.6" y1="691.9" x2="368.9" y2="691.9" stroke="#787878" stroke-width="1.5" />
<text x="362.4" y="698.1" font-size="12.6" text-anchor="end" fill="#222" font-weight="normal" >0</text>
<line x1="364.6" y1="626.8" x2="368.9" y2="626.8" stroke="#787878" stroke-width="1.5" />
<text x="362.4" y="632.3" font-size="12.6" text-anchor="end" fill="#222" font-weight="normal" >20</text>
<line x1="364.6" y1="561.7" x2="368.9" y2="561.7" stroke="#787878" stroke-width="1.5" />
<text x="362.4" y="566.6" font-size="12.6" text-anchor="end" fill="#222" font-weight="normal" >40</text>
<line x1="364.6" y1="496.6" x2="368.9" y2="496.6" stroke="#787878" stroke-width="1.5" />
<text x="362.4" y="501.5" font-size="12.6" text-anchor="end" fill="#222" font-weight="normal" >60</text>
<line x1="364.6" y1="691.9" x2="499.2" y2="691.9" stroke="#787878" stroke-width="1.7" />
<line x1="390.6" y1="691.9" x2="390.6" y2="696.5" stroke="#787878" stroke-width="1.7" />
<line x1="434.1" y1="691.9" x2="434.1" y2="696.5" stroke="#787878" stroke-width="1.7" />
<line x1="477.6" y1="691.9" x2="477.6" y2="696.5" stroke="#787878" stroke-width="1.7" />
<rect x="375.2" y="527.7" width="30.7" height="164.2" fill="#000"/>
<line x1="390.5" y1="527.7" x2="390.5" y2="511.8" stroke="#888" stroke-width="0.9" />
<line x1="383.3" y1="511.8" x2="397.7" y2="511.8" stroke="#444" stroke-width="1.6" />
<rect x="418.6" y="600.6" width="30.7" height="91.3" fill="#000"/>
<line x1="434" y1="600.6" x2="434" y2="587.7" stroke="#888" stroke-width="0.9" />
<line x1="426.8" y1="587.7" x2="441.2" y2="587.7" stroke="#444" stroke-width="1.6" />
<rect x="462.3" y="635.8" width="30.4" height="56.1" fill="#000"/>
<line x1="477.5" y1="635.8" x2="477.5" y2="618.5" stroke="#888" stroke-width="0.9" />
<line x1="470.3" y1="618.5" x2="484.7" y2="618.5" stroke="#444" stroke-width="1.6" />
<text x="391.2" y="714.3" font-size="12.6" text-anchor="middle" fill="#222" font-weight="normal" >Liver</text>
<text x="435.6" y="714.3" font-size="12.6" text-anchor="middle" fill="#222" font-weight="normal" >Spleen</text>
<text x="477.3" y="714.3" font-size="12.6" text-anchor="middle" fill="#222" font-weight="normal" >Other</text>
<text x="477.3" y="728" font-size="12.6" text-anchor="middle" fill="#222" font-weight="normal" >sites</text>
<text transform="translate(327.3,596.2) rotate(-90)" font-size="12.6" text-anchor="middle" fill="#222">Organ radioactivity at 48h</text>
<text transform="translate(341.7,595.7) rotate(-90)" font-size="12.6" text-anchor="middle" fill="#222">(as % of total injected)</text></svg>
</body></html>
